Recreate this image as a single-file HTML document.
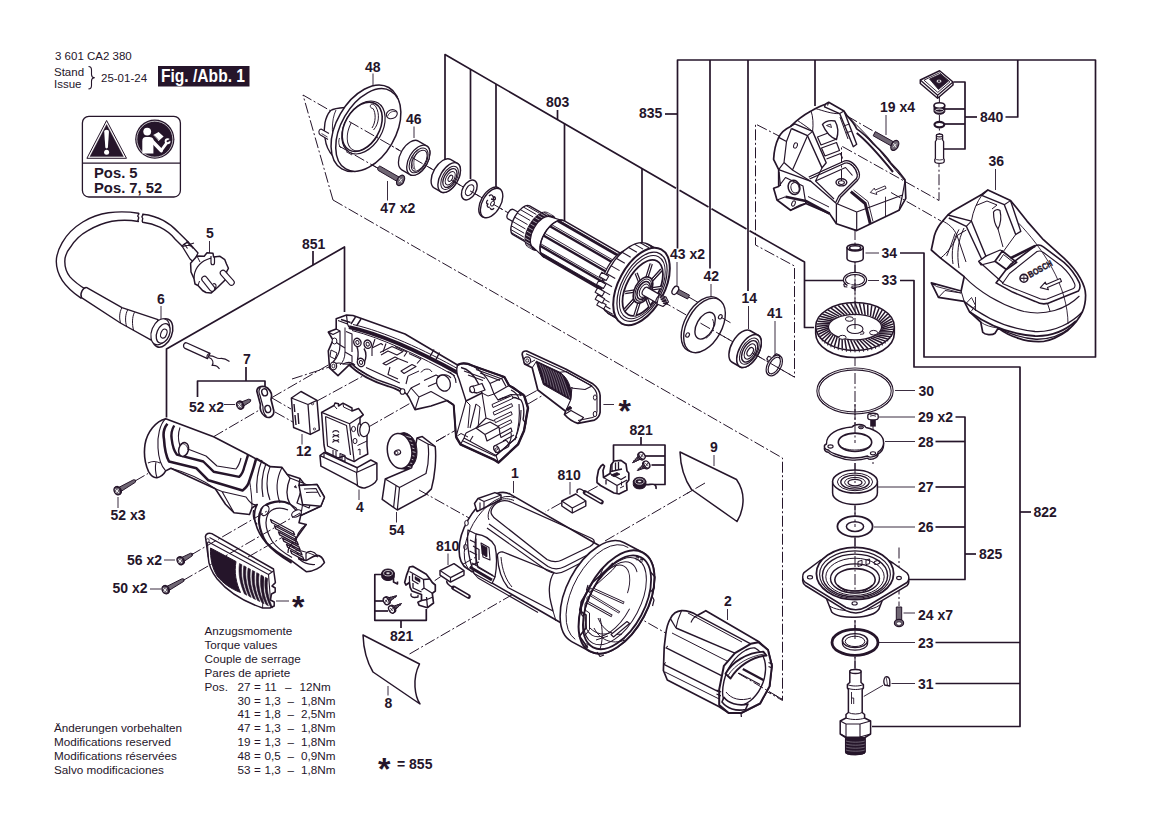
<!DOCTYPE html>
<html lang="de">
<head>
<meta charset="utf-8">
<title>3 601 CA2 380 - Fig. /Abb. 1</title>
<style>
html,body{margin:0;padding:0;background:#fff;}
body{width:1169px;height:826px;overflow:hidden;font-family:"Liberation Sans",sans-serif;}
svg{display:block;}
svg text{font-family:"Liberation Sans",sans-serif;fill:#25152a;stroke:none;}
</style>
</head>
<body>
<svg width="1169" height="826" viewBox="0 0 1169 826" fill="none" stroke="#25152a" stroke-linecap="butt" stroke-linejoin="round">
<rect x="0" y="0" width="1169" height="826" fill="#fff" stroke="none"/>
<g id="header">
<text x="55" y="59.5" font-size="11.5">3 601 CA2 380</text>
<text x="54" y="76" font-size="11.5">Stand</text>
<text x="54" y="88" font-size="11.5">Issue</text>
<path d="M88.5,66.5 q3,0 3,3.5 v4.5 q0,3 3,3.2 q-3,0.2 -3,3.2 v4.5 q0,3.5 -3,3.5" fill="none" stroke-width="1.1"/>
<text x="101" y="82" font-size="11.5">25-01-24</text>
<rect x="158" y="66" width="91.5" height="20.5" fill="#25152a" stroke="none"/>
<text x="161" y="82" font-size="17.5" font-weight="700" style="fill:#fff" textLength="84" lengthAdjust="spacingAndGlyphs">Fig. /Abb. 1</text>
</g>
<g id="warnbox">
<rect x="82.4" y="116.4" width="98" height="80.6" rx="6.5" ry="6.5" stroke-width="1.3"/>
<polyline points="82.4,163.2 180.4,163.2" stroke-width="1.3"/>
<path d="M106.6,120.5 L126.5,158.3 L86.9,158.3 Z" fill="none" stroke-width="1.0"/>
<path d="M106.6,124.4 L123.4,156.6 L90,156.6 Z" fill="#25152a" stroke-width="0.4"/>
<path d="M104.2,131.5 Q104.2,129.8 106.6,129.8 Q109,129.8 109,131.5 L107.9,147.6 Q107.8,148.4 106.6,148.4 Q105.4,148.4 105.3,147.6 Z" fill="#fff" stroke="none"/>
<circle cx="106.6" cy="152.2" r="2.5" fill="#fff" stroke="none"/>
<circle cx="154.8" cy="139.2" r="19.6" fill="#25152a" stroke="none"/>
<circle cx="154.8" cy="139.2" r="18" fill="none" stroke="#fff" stroke-width="0.7"/>
<g fill="#fff" stroke="none">
<circle cx="147.2" cy="131.6" r="3.9"/>
<path d="M142.3,153.6 L142.3,141 Q142.3,137 146,137 L149.5,137 Q152.4,137 153.4,139 L153.4,153.6 Z"/>
<path d="M153.2,135 L158.6,132 L163.6,136.5 L158.6,141 Z"/>
</g>
<g fill="none" stroke="#fff" stroke-linecap="round">
<path d="M150.6,139.6 L161.2,150.6" stroke-width="3.6"/>
<path d="M161.4,150.2 L166.2,143.6" stroke-width="2.8"/>
<circle cx="167.6" cy="141.2" r="2.0" stroke-width="1.9"/>
</g>
<path d="M167.4,141.2 L171.5,137.5 L171.5,140.5 Z" fill="#25152a" stroke="#25152a" stroke-width="0.8"/>
<path d="M153.9,135.4 L158.2,139.8" stroke="#25152a" stroke-width="0.8"/>
<text x="94" y="177.5" font-size="14.8" font-weight="700">Pos. 5</text>
<text x="94" y="192.5" font-size="14.8" font-weight="700">Pos. 7, 52</text>
</g>
<g id="torque" font-size="11.7">
<text x="204.5" y="635" font-size="11.7">Anzugsmomente</text>
<text x="204.5" y="649" font-size="11.7">Torque values</text>
<text x="204.5" y="663" font-size="11.7">Couple de serrage</text>
<text x="204.5" y="677" font-size="11.7">Pares de apriete</text>
<text x="204.5" y="690.7" font-size="11.7">Pos.</text>
<text x="237.5" y="690.7" font-size="11.7">27</text>
<text x="254" y="690.7" font-size="11.7">=</text>
<text x="264.5" y="690.7" font-size="11.7">11</text>
<text x="285" y="690.7" font-size="11.7">–</text>
<text x="299.5" y="690.7" font-size="11.7">12Nm</text>
<text x="237.5" y="704.5" font-size="11.7">30</text>
<text x="254" y="704.5" font-size="11.7">=</text>
<text x="264.5" y="704.5" font-size="11.7">1,3</text>
<text x="287.5" y="704.5" font-size="11.7">–</text>
<text x="301" y="704.5" font-size="11.7">1,8Nm</text>
<text x="237.5" y="718.3" font-size="11.7">41</text>
<text x="254" y="718.3" font-size="11.7">=</text>
<text x="264.5" y="718.3" font-size="11.7">1,8</text>
<text x="287.5" y="718.3" font-size="11.7">–</text>
<text x="301" y="718.3" font-size="11.7">2,5Nm</text>
<text x="237.5" y="732" font-size="11.7">47</text>
<text x="254" y="732" font-size="11.7">=</text>
<text x="264.5" y="732" font-size="11.7">1,3</text>
<text x="287.5" y="732" font-size="11.7">–</text>
<text x="301" y="732" font-size="11.7">1,8Nm</text>
<text x="237.5" y="745.8" font-size="11.7">19</text>
<text x="254" y="745.8" font-size="11.7">=</text>
<text x="264.5" y="745.8" font-size="11.7">1,3</text>
<text x="287.5" y="745.8" font-size="11.7">–</text>
<text x="301" y="745.8" font-size="11.7">1,8Nm</text>
<text x="237.5" y="759.8" font-size="11.7">48</text>
<text x="254" y="759.8" font-size="11.7">=</text>
<text x="264.5" y="759.8" font-size="11.7">0,5</text>
<text x="287.5" y="759.8" font-size="11.7">–</text>
<text x="301" y="759.8" font-size="11.7">0,9Nm</text>
<text x="237.5" y="773.6" font-size="11.7">53</text>
<text x="254" y="773.6" font-size="11.7">=</text>
<text x="264.5" y="773.6" font-size="11.7">1,3</text>
<text x="287.5" y="773.6" font-size="11.7">–</text>
<text x="301" y="773.6" font-size="11.7">1,8Nm</text>
<text x="54" y="732" font-size="11.7">Änderungen vorbehalten</text>
<text x="54" y="745.8" font-size="11.7">Modifications reserved</text>
<text x="54" y="759.8" font-size="11.7">Modifications réservées</text>
<text x="54" y="773.6" font-size="11.7">Salvo modificaciones</text>
</g>
<g id="labels">
<text x="365" y="71.5" font-size="14" font-weight="700">48</text>
<text x="406" y="124" font-size="14" font-weight="700">46</text>
<text x="546" y="107" font-size="14" font-weight="700">803</text>
<text x="639" y="118" font-size="14" font-weight="700">835</text>
<text x="880" y="112" font-size="14" font-weight="700">19 x4</text>
<text x="980" y="122" font-size="14" font-weight="700">840</text>
<text x="988.5" y="166" font-size="14" font-weight="700">36</text>
<text x="206" y="238" font-size="14" font-weight="700">5</text>
<text x="157" y="303.5" font-size="14" font-weight="700">6</text>
<text x="243" y="364" font-size="14" font-weight="700">7</text>
<text x="189" y="411.5" font-size="14" font-weight="700">52 x2</text>
<text x="302" y="248.5" font-size="14" font-weight="700">851</text>
<text x="670" y="259" font-size="14" font-weight="700">43 x2</text>
<text x="703.5" y="281" font-size="14" font-weight="700">42</text>
<text x="741.5" y="303" font-size="14" font-weight="700">14</text>
<text x="767" y="318" font-size="14" font-weight="700">41</text>
<text x="881.5" y="257.5" font-size="14" font-weight="700">34</text>
<text x="881.5" y="284.5" font-size="14" font-weight="700">33</text>
<text x="918.5" y="395.5" font-size="14" font-weight="700">30</text>
<text x="110.5" y="520" font-size="14" font-weight="700">52 x3</text>
<text x="127" y="564.5" font-size="14" font-weight="700">56 x2</text>
<text x="112.5" y="593" font-size="14" font-weight="700">50 x2</text>
<text x="296" y="456" font-size="14" font-weight="700">12</text>
<text x="356" y="512" font-size="14" font-weight="700">4</text>
<text x="389" y="535" font-size="14" font-weight="700">54</text>
<text x="511" y="478" font-size="14" font-weight="700">1</text>
<text x="557.5" y="479.5" font-size="14" font-weight="700">810</text>
<text x="436" y="551" font-size="14" font-weight="700">810</text>
<text x="629.5" y="434.5" font-size="14" font-weight="700">821</text>
<text x="710" y="452" font-size="14" font-weight="700">9</text>
<text x="724" y="606" font-size="14" font-weight="700">2</text>
<text x="918" y="422" font-size="14" font-weight="700">29 x2</text>
<text x="918" y="446.5" font-size="14" font-weight="700">28</text>
<text x="918" y="492" font-size="14" font-weight="700">27</text>
<text x="918" y="532" font-size="14" font-weight="700">26</text>
<text x="979" y="559" font-size="14" font-weight="700">825</text>
<text x="1033.5" y="517" font-size="14" font-weight="700">822</text>
<text x="918" y="620" font-size="14" font-weight="700">24 x7</text>
<text x="918" y="647.5" font-size="14" font-weight="700">23</text>
<text x="918" y="688.5" font-size="14" font-weight="700">31</text>
<text x="390" y="641" font-size="14" font-weight="700">821</text>
<text x="384.5" y="708" font-size="14" font-weight="700">8</text>
<text x="397" y="769" font-size="14" font-weight="700">= 855</text>
<text x="380.3" y="213.2" font-size="14" font-weight="700">47 x2</text>
</g>
<g id="brackets">
<polyline points="445,160 445,54.5 676,188.249" stroke-width="1.7"/>
<polyline points="679.5,190.2755 708.5,207.0665" stroke-width="1.7"/>
<polyline points="711.5,208.80349999999999 746.5,229.0685" stroke-width="1.7"/>
<polyline points="749.5,230.8055 804.5,262 804.5,327.5 814,327.5" stroke-width="1.7"/>
<polyline points="804.5,280.5 844,280.5" stroke-width="1.7"/>
<polyline points="470.5,69.2645 470.5,179" stroke-width="1.7"/>
<polyline points="496,84.029 496,187" stroke-width="1.7"/>
<polyline points="564.5,123.6905 564.5,228" stroke-width="1.7"/>
<polyline points="642,168.563 642,245" stroke-width="1.7"/>
<polyline points="557.5,110 557.5,119.63749999999999" stroke-width="1.7"/>
<polyline points="677.5,248.5 677.5,60 1095.5,60 1095.5,357 924,357 924,253 900,253" stroke-width="1.7"/>
<polyline points="665,114 677.5,114" stroke-width="1.7"/>
<polyline points="710,60 710,268.5" stroke-width="1.7"/>
<polyline points="748,60 748,291" stroke-width="1.7"/>
<polyline points="815,60 815,106" stroke-width="1.7"/>
<polyline points="1017.75,60 1017.75,117 1005.5,117" stroke-width="1.7"/>
<polyline points="953.5,82 965,82 965,149 943.5,149" stroke-width="1.7"/>
<polyline points="944,109 965,109" stroke-width="1.7"/>
<polyline points="944,124 965,124" stroke-width="1.7"/>
<polyline points="965,117 977,117" stroke-width="1.7"/>
<polyline points="900,280.5 914,280.5 914,367 1020,367 1020,726.5 872,726.5" stroke-width="1.7"/>
<polyline points="1020,512 1031,512" stroke-width="1.7"/>
<polyline points="935.5,642.5 1020,642.5" stroke-width="1.7"/>
<polyline points="935.5,683.5 1020,683.5" stroke-width="1.7"/>
<polyline points="955.5,417 965,417 965,579.5 908.5,579.5" stroke-width="1.7"/>
<polyline points="935.5,441.5 965,441.5" stroke-width="1.7"/>
<polyline points="935.5,487 965,487" stroke-width="1.7"/>
<polyline points="935.5,527 965,527" stroke-width="1.7"/>
<polyline points="965,554 976,554" stroke-width="1.7"/>
<polyline points="166.5,417.5 166.5,349 344.5,247 344.5,312" stroke-width="1.7"/>
<polyline points="313,251 313,265" stroke-width="1.7"/>
<polyline points="197.5,397 197.5,381 265,381 265,387.5" stroke-width="1.7"/>
<polyline points="246,367 246,381" stroke-width="1.7"/>
<polyline points="613.5,461 613.5,445 665,445 665,484.5 655,484.5" stroke-width="1.7"/>
<polyline points="641,437 641,445" stroke-width="1.7"/>
<polyline points="645,456 665,456" stroke-width="1.7"/>
<polyline points="651.5,465 665,465" stroke-width="1.7"/>
<polyline points="382,574.5 374.8,574.5 374.8,620.3 426.3,620.3 426.3,609" stroke-width="1.7"/>
<polyline points="374.8,601 383,601" stroke-width="1.7"/>
<polyline points="374.8,611 388,611" stroke-width="1.7"/>
<polyline points="401,620 401,628" stroke-width="1.7"/>
</g>
<g id="leaders">
<polyline points="373,73.5 373,86" stroke-width="0.9"/>
<polyline points="414,126.5 414,138" stroke-width="0.9"/>
<polyline points="886,115 886,135" stroke-width="0.9"/>
<polyline points="995.5,169 995.5,190" stroke-width="0.9"/>
<polyline points="209.5,241 209.5,253" stroke-width="0.9"/>
<polyline points="161,306 161,319" stroke-width="0.9"/>
<polyline points="677,262 677,285.5" stroke-width="0.9"/>
<polyline points="711,284 711,297" stroke-width="0.9"/>
<polyline points="748.5,306 748.5,329" stroke-width="0.9"/>
<polyline points="775,321 775,355" stroke-width="0.9"/>
<polyline points="895,390.5 915,390.5" stroke-width="0.9"/>
<polyline points="118,497 118,508" stroke-width="0.9"/>
<polyline points="164,560 175,560" stroke-width="0.9"/>
<polyline points="150,589 161,589" stroke-width="0.9"/>
<polyline points="302,434 302,444.5" stroke-width="0.9"/>
<polyline points="359,489.5 359,500" stroke-width="0.9"/>
<polyline points="396.5,512 396.5,522.5" stroke-width="0.9"/>
<polyline points="513.5,481 513.5,493" stroke-width="0.9"/>
<polyline points="570,482 570,494.5" stroke-width="0.9"/>
<polyline points="448,553.5 448,565" stroke-width="0.9"/>
<polyline points="714,455 714,466" stroke-width="0.9"/>
<polyline points="727.5,609 727.5,620" stroke-width="0.9"/>
<polyline points="873,417 915,417" stroke-width="0.9"/>
<polyline points="885,441.5 915,441.5" stroke-width="0.9"/>
<polyline points="877,487 915,487" stroke-width="0.9"/>
<polyline points="874,527 915,527" stroke-width="0.9"/>
<polyline points="903.5,613 915,613" stroke-width="0.9"/>
<polyline points="878,642.5 915,642.5" stroke-width="0.9"/>
<polyline points="891.5,683.5 915,683.5" stroke-width="0.9"/>
<polyline points="388,686 388,695.5" stroke-width="0.9"/>
<polyline points="224,404.5 235,404.5" stroke-width="0.9"/>
<polyline points="276,601 289,601" stroke-width="0.9"/>
<polyline points="387.5,181 387.5,200.5" stroke-width="0.9"/>
<polyline points="603.4,404.5 614,404.5" stroke-width="0.9"/>
</g>
<text x="292.1" y="618.1" font-size="32" font-weight="700">*</text>
<text x="618.5" y="421.7" font-size="32" font-weight="700">*</text>
<text x="378.0" y="779.7" font-size="32" font-weight="700">*</text>
<g id="dashdot">
<polyline points="333,200 303,95 794.5,377.121 794.5,266 755.5,245 755.5,124 779,136" stroke-width="1.0" stroke-dasharray="11 2.5 2 2.5"/>
<polyline points="333,200 782.5,458 782.5,700.5 700,653" stroke-width="1.0" stroke-dasharray="11 2.5 2 2.5"/>
<polyline points="339,146 404,183" stroke-width="1.0" stroke-dasharray="11 2.5 2 2.5"/>
</g>
<g id="p_10_p48">
<path d="M345,107.5 C338,108 333,109 330.6,110.5 C325,117 323,128 325,138 C326,146 329,152 333,156 L345,162 Z" fill="#fff" stroke-width="1.4"/>
<path d="M336,110 C331,120 331,138 337,151" fill="none" stroke-width="0.9"/>
<path d="M328,139.5 L320.5,135 C318,133 318.5,129.5 321,129 L329,133.5" fill="#fff" stroke-width="1.1"/>
<path d="M321.5,133.5 L327.5,137" fill="none" stroke-width="0.8"/>
<ellipse cx="365.3" cy="128.2" rx="28.8" ry="47" fill="#fff" stroke-width="1.5" transform="rotate(30 365.3 128.2)"/>
<ellipse cx="368.3" cy="130" rx="27.2" ry="45" fill="#fff" stroke-width="1.5" transform="rotate(30 368.3 130)"/>
<ellipse cx="363.5" cy="127.5" rx="18.8" ry="28.5" fill="#fff" stroke-width="1.2" transform="rotate(30 363.5 127.5)"/>
<ellipse cx="362.2" cy="126.8" rx="17.3" ry="26.6" fill="#fff" stroke-width="1.6" transform="rotate(30 362.2 126.8)"/>
<ellipse cx="364.8" cy="128.4" rx="14.6" ry="24.5" fill="none" stroke-width="0.9" transform="rotate(30 364.8 128.4)" stroke-dasharray="60 70"/>
<path d="M370.8,104.8 C372,103.5 374.5,104.5 376,107 C380,114 379,124 373.5,130" fill="none" stroke-width="1.0"/>
<path d="M370.8,104.8 C369.5,106.5 371,108.5 373,108.5 C376,113 376,122 372,128" fill="none" stroke-width="1.0"/>
<ellipse cx="391.8" cy="114.2" rx="5.6" ry="4.4" fill="#fff" stroke-width="1.1" transform="rotate(-20 391.8 114.2)"/>
<path d="M387.5,116.5 C389,112 393,110.5 396.5,112" fill="none" stroke-width="0.8"/>
<path d="M339.5,138 C338,142 339,146 341,148" fill="none" stroke-width="0.9"/>
<path d="M346,151.5 L352,155" fill="none" stroke-width="0.9"/>
<polyline points="349,121.404 399,150.10399999999998" stroke-width="1.0" stroke-dasharray="11 2.5 2 2.5"/>
<polyline points="339,146 380,169.5" stroke-width="1.0" stroke-dasharray="11 2.5 2 2.5"/>
</g>
<g id="p_11_p47_46">
<path d="M380.2,166.2 L399.5,177.3 L397.2,181.5 L378.2,170.4 C376.8,169.5 378.6,165.4 380.2,166.2 Z" fill="#6f6673" stroke-width="1.0"/>
<ellipse cx="400.6" cy="180.4" rx="3.3" ry="5.6" fill="#6f6673" stroke-width="1.3" transform="rotate(30 400.6 180.4)"/>
<path d="M399.2,178.2 L402,182.6 M402.3,178.6 L399,182.2" fill="none" stroke-width="0.8" stroke="#fff"/>
<path d="M410.00,174.58 L401.77,169.83 A9.4 16.6 30 0 1 418.37,141.07 L426.60,145.82 A9.4 16.6 30 0 1 410.00,174.58 Z" fill="#fff" stroke-width="1.3"/>
<ellipse cx="418.3" cy="160.2" rx="9.4" ry="16.6" fill="#fff" stroke-width="1.3" transform="rotate(30 418.3 160.2)"/>
<ellipse cx="418.6" cy="160.4" rx="7.6" ry="13.6" fill="#fff" stroke-width="1.1" transform="rotate(30 418.6 160.4)"/>
<ellipse cx="419.2" cy="160.7" rx="6.2" ry="11.6" fill="#fff" stroke-width="1.0" transform="rotate(30 419.2 160.7)"/>
<path d="M413.5,169 C410.5,163 412,153.5 417.5,149.5" fill="none" stroke-width="0.8"/>
<path d="M415.3,170.3 C412.3,164 414,154.5 419,150.5" fill="none" stroke-width="0.8"/>
<polyline points="413,158.14 432,169.046" stroke-width="1.0" stroke-dasharray="11 2.5 2 2.5"/>
</g>
<g id="p_12_bearing_washers">
<path d="M441.00,191.80 L434.07,187.80 A9.0 16.4 30 0 1 450.47,159.40 L457.40,163.40 A9.0 16.4 30 0 1 441.00,191.80 Z" fill="#fff" stroke-width="1.4"/>
<ellipse cx="449.2" cy="177.6" rx="9.0" ry="16.4" fill="#fff" stroke-width="1.4" transform="rotate(30 449.2 177.6)"/>
<ellipse cx="449.6" cy="177.8" rx="7.0" ry="12.8" fill="#fff" stroke-width="1.0" transform="rotate(30 449.6 177.8)"/>
<ellipse cx="449.9" cy="178" rx="5.6" ry="10.4" fill="#fff" stroke-width="1.3" transform="rotate(30 449.9 178)"/>
<ellipse cx="450.2" cy="178.2" rx="4.0" ry="7.4" fill="#fff" stroke-width="0.9" transform="rotate(30 450.2 178.2)"/>
<ellipse cx="450.4" cy="178.3" rx="1.9" ry="3.4" fill="#fff" stroke-width="1.0" transform="rotate(30 450.4 178.3)"/>
<polyline points="451,179.952 463,186.83999999999997" stroke-width="1.0" stroke-dasharray="11 2.5 2 2.5"/>
<ellipse cx="469.3" cy="190" rx="6.6" ry="10.8" fill="#fff" stroke-width="1.4" transform="rotate(30 469.3 190)"/>
<ellipse cx="469.6" cy="190.2" rx="3.5" ry="5.9" fill="#fff" stroke-width="1.2" transform="rotate(30 469.6 190.2)"/>
<polyline points="470,190.858 484,198.894" stroke-width="1.0" stroke-dasharray="11 2.5 2 2.5"/>
<ellipse cx="490.3" cy="202.2" rx="9.3" ry="16.6" fill="#fff" stroke-width="1.4" transform="rotate(30 490.3 202.2)"/>
<ellipse cx="491.6" cy="203" rx="9.0" ry="16.2" fill="#fff" stroke-width="1.4" transform="rotate(30 491.6 203)"/>
<path d="M489,196 c2,-2 4,-1 4,1 c2,-1 3,1 2,3 M488,200 c-2,1 -2,4 0,4 c-2,2 0,4 2,3 M490,208 c1,2 3,2 4,0 M493.5,197 l0,6 M491,199 l4,1" fill="none" stroke-width="1.3"/>
<ellipse cx="492.5" cy="203.6" rx="1.6" ry="2.6" fill="#fff" stroke-width="0.9" transform="rotate(30 492.5 203.6)"/>
<polyline points="493,204.06 503,209.8" stroke-width="1.0" stroke-dasharray="11 2.5 2 2.5"/>
</g>
<g id="p_13_armature">
<path d="M516.30,223.66 L508.07,218.91 A3.0 5.4 30 0 1 513.47,209.56 L521.70,214.31 A3.0 5.4 30 0 1 516.30,223.66 Z" fill="#fff" stroke-width="1.3"/>
<path d="M527.70,243.12 L512.98,234.62 A7.5 16.6 30 0 1 529.58,205.87 L544.30,214.37 A7.5 16.6 30 0 1 527.70,243.12 Z" fill="#fff" stroke-width="1.4"/>
<polyline points="511.28,232.53 524.27,240.03" stroke-width="1.0"/>
<polyline points="510.76,229.53 523.75,237.03" stroke-width="1.0"/>
<polyline points="511.17,225.72 524.16,233.22" stroke-width="1.0"/>
<polyline points="512.46,221.44 525.45,228.94" stroke-width="1.0"/>
<polyline points="514.52,217.06 527.51,224.56" stroke-width="1.0"/>
<polyline points="517.17,212.96 530.16,220.46" stroke-width="1.0"/>
<polyline points="520.19,209.51 533.18,217.01" stroke-width="1.0"/>
<polyline points="523.3,206.99 536.29,214.49" stroke-width="1.0"/>
<polyline points="526.24,205.65 539.23,213.15" stroke-width="1.0"/>
<path d="M533.25,249.65 L528.05,246.65 A9.5 19.5 30 0 1 547.55,212.87 L552.75,215.87 A9.5 19.5 30 0 1 533.25,249.65 Z" fill="#25152a" stroke-width="1.2"/>
<polyline points="526.97,245.7 531.73,248.45" stroke-width="0.6" stroke="#fff"/>
<polyline points="525.88,243.77 530.64,246.52" stroke-width="0.6" stroke="#fff"/>
<polyline points="525.32,241.23 530.08,243.98" stroke-width="0.6" stroke="#fff"/>
<polyline points="525.31,238.2 530.07,240.95" stroke-width="0.6" stroke="#fff"/>
<polyline points="525.86,234.81 530.62,237.56" stroke-width="0.6" stroke="#fff"/>
<polyline points="526.93,231.2 531.7,233.95" stroke-width="0.6" stroke="#fff"/>
<polyline points="528.5,227.54 533.26,230.29" stroke-width="0.6" stroke="#fff"/>
<polyline points="530.47,223.97 535.24,226.72" stroke-width="0.6" stroke="#fff"/>
<polyline points="532.78,220.67 537.54,223.42" stroke-width="0.6" stroke="#fff"/>
<polyline points="535.31,217.77 540.08,220.52" stroke-width="0.6" stroke="#fff"/>
<polyline points="537.96,215.4 542.73,218.15" stroke-width="0.6" stroke="#fff"/>
<polyline points="540.62,213.66 545.38,216.41" stroke-width="0.6" stroke="#fff"/>
<polyline points="543.16,212.63 547.92,215.38" stroke-width="0.6" stroke="#fff"/>
<polyline points="545.47,212.36 550.23,215.11" stroke-width="0.6" stroke="#fff"/>
<polyline points="547.46,212.85 552.22,215.6" stroke-width="0.6" stroke="#fff"/>
<path d="M550.75,217.03 L564.40,221.06 L543.60,257.09 L533.25,247.34 A9 17.5 30 0 1 550.75,217.03 Z" fill="#fff" stroke-width="1.2"/>
<path d="M607.60,293.82 L543.60,256.87 A11 20.8 30 0 1 564.40,220.85 L628.40,257.80 A11 20.8 30 0 1 607.60,293.82 Z" fill="#fff" stroke-width="1.5"/>
<path d="M564.40,221.06 A11 20.8 30 0 0 543.60,257.09" fill="none" stroke-width="1.0"/>
<polyline points="540.79,253.72 603.06,289.67" stroke-width="2.4"/>
<polyline points="540.29,252.16 602.55,288.11" stroke-width="0.9"/>
<polyline points="540.09,245.83 602.36,281.78" stroke-width="2.4"/>
<polyline points="540.48,243.64 602.75,279.59" stroke-width="0.9"/>
<polyline points="543.44,235.49 605.71,271.44" stroke-width="2.4"/>
<polyline points="544.66,233.26 606.92,269.21" stroke-width="0.9"/>
<polyline points="550.0,226.23 612.26,262.18" stroke-width="2.4"/>
<polyline points="551.67,224.65 613.94,260.6" stroke-width="0.9"/>
<polyline points="557.77,220.88 620.04,256.83" stroke-width="2.4"/>
<polyline points="559.4,220.42 621.67,256.37" stroke-width="0.9"/>
<path d="M613.64,302.75 L606.72,298.75 A15 28 30 0 1 634.72,250.25 L641.64,254.25 A15 28 30 0 1 613.64,302.75 Z" fill="#fff" stroke-width="1.3"/>
<path d="M621.50,321.14 L608.51,313.64 A22 40 30 0 1 648.51,244.36 L661.50,251.86 A22 40 30 0 1 621.50,321.14 Z" fill="#fff" stroke-width="1.4"/>
<polyline points="612.12,315.02 620.78,320.02" stroke-width="1.1"/>
<polyline points="607.54,313.02 616.2,318.02" stroke-width="1.1"/>
<polyline points="604.03,309.27 612.69,314.27" stroke-width="1.1"/>
<polyline points="601.78,303.96 610.44,308.96" stroke-width="1.1"/>
<polyline points="600.9,297.38 609.56,302.38" stroke-width="1.1"/>
<polyline points="601.43,289.86 610.09,294.86" stroke-width="1.1"/>
<polyline points="603.35,281.78 612.01,286.78" stroke-width="1.1"/>
<polyline points="606.56,273.55 615.22,278.55" stroke-width="1.1"/>
<polyline points="610.9,265.61 619.56,270.61" stroke-width="1.1"/>
<polyline points="616.14,258.35 624.8,263.35" stroke-width="1.1"/>
<polyline points="622.01,252.15 630.67,257.15" stroke-width="1.1"/>
<polyline points="628.22,247.33 636.88,252.33" stroke-width="1.1"/>
<polyline points="634.44,244.13 643.1,249.13" stroke-width="1.1"/>
<polyline points="640.35,242.72 649.01,247.72" stroke-width="1.1"/>
<polyline points="645.66,243.17 654.32,248.17" stroke-width="1.1"/>
<polyline points="650.09,245.45 658.75,250.45" stroke-width="1.1"/>
<polyline points="653.42,249.45 662.08,254.45" stroke-width="1.1"/>
<path d="M599.27,300.66 l6.93,4.00 l-2.50,4.33 l-6.93,-4.00 Z" fill="#fff" stroke-width="1.1"/>
<path d="M597.70,294.84 l6.93,4.00 l-2.50,4.33 l-6.93,-4.00 Z" fill="#fff" stroke-width="1.1"/>
<path d="M597.61,287.88 l6.93,4.00 l-2.50,4.33 l-6.93,-4.00 Z" fill="#fff" stroke-width="1.1"/>
<path d="M598.99,280.18 l6.93,4.00 l-2.50,4.33 l-6.93,-4.00 Z" fill="#fff" stroke-width="1.1"/>
<path d="M601.76,272.20 l6.93,4.00 l-2.50,4.33 l-6.93,-4.00 Z" fill="#fff" stroke-width="1.1"/>
<ellipse cx="641.5" cy="286.5" rx="23" ry="42" fill="#fff" stroke-width="2.0" transform="rotate(28 641.5 286.5)"/>
<ellipse cx="642.0" cy="286.8" rx="20.2" ry="37.6" fill="#fff" stroke-width="1.2" transform="rotate(28 642.0 286.8)"/>
<ellipse cx="642.3" cy="287.1" rx="18.4" ry="34.4" fill="#fff" stroke-width="1.0" transform="rotate(28 642.3 287.1)"/>
<ellipse cx="642.7" cy="287.9" rx="16.2" ry="30.5" fill="#fff" stroke-width="1.8" transform="rotate(28 642.7 287.9)"/>
<polyline points="640.2,299.05 634.74,316.17" stroke-width="3.4"/>
<polyline points="640.2,299.05 634.74,316.17" stroke-width="1.0" stroke="#fff"/>
<polyline points="645.49,295.85 649.85,306.77" stroke-width="3.4"/>
<polyline points="645.49,295.85 649.85,306.77" stroke-width="1.0" stroke="#fff"/>
<polyline points="649.31,289.23 660.95,287.55" stroke-width="3.4"/>
<polyline points="649.31,289.23 660.95,287.55" stroke-width="1.0" stroke="#fff"/>
<polyline points="649.44,283.05 661.53,269.76" stroke-width="3.4"/>
<polyline points="649.44,283.05 661.53,269.76" stroke-width="1.0" stroke="#fff"/>
<polyline points="645.8,280.95 651.26,263.83" stroke-width="3.4"/>
<polyline points="645.8,280.95 651.26,263.83" stroke-width="1.0" stroke="#fff"/>
<polyline points="640.51,284.15 636.15,273.23" stroke-width="3.4"/>
<polyline points="640.51,284.15 636.15,273.23" stroke-width="1.0" stroke="#fff"/>
<polyline points="636.69,290.77 625.05,292.45" stroke-width="3.4"/>
<polyline points="636.69,290.77 625.05,292.45" stroke-width="1.0" stroke="#fff"/>
<polyline points="636.56,296.95 624.47,310.24" stroke-width="3.4"/>
<polyline points="636.56,296.95 624.47,310.24" stroke-width="1.0" stroke="#fff"/>
<ellipse cx="643.0" cy="290.0" rx="8.2" ry="14.2" fill="#fff" stroke-width="1.6" transform="rotate(28 643.0 290.0)"/>
<ellipse cx="643.3" cy="290.2" rx="7.0" ry="12.0" fill="#fff" stroke-width="1.0" transform="rotate(28 643.3 290.2)"/>
<ellipse cx="643.6" cy="290.4" rx="5.6" ry="9.6" fill="#fff" stroke-width="1.6" transform="rotate(28 643.6 290.4)"/>
<ellipse cx="644.2" cy="290.7" rx="4.2" ry="7.2" fill="#fff" stroke-width="1.0" transform="rotate(28 644.2 290.7)"/>
<path d="M656.80,303.01 L642.94,295.01 A2.4 4.4 30 0 1 647.34,287.39 L661.20,295.39 A2.4 4.4 30 0 1 656.80,303.01 Z" fill="#fff" stroke-width="1.2"/>
<ellipse cx="659.0" cy="299.2" rx="2.4" ry="4.4" fill="#fff" stroke-width="1.2" transform="rotate(30 659.0 299.2)"/>
<path d="M659.0,294.5 l7,2.5 l2.5,5 l-5.5,4.5 l-6,-2.5 Z" fill="#fff" stroke-width="1.1"/>
<polyline points="658.5,295.5 665.5,298.0" stroke-width="1.3"/>
<polyline points="659.6,297.4 666.1,299.5" stroke-width="1.3"/>
<polyline points="660.7,299.3 666.7,301.0" stroke-width="1.3"/>
<polyline points="661.8,301.2 667.3,302.5" stroke-width="1.3"/>
<polyline points="662.9,303.1 667.9,304.0" stroke-width="1.3"/>
</g>
<g id="p_14_p43_42_14_41">
<polyline points="689,297.2 698,302.4" stroke-width="1.0" stroke-dasharray="11 2.5 2 2.5"/>
<path d="M676.5,288.2 L689.5,295.2 L687.6,299 L674.6,292.4 Z" fill="#6f6673" stroke-width="1.0"/>
<ellipse cx="675.3" cy="290.3" rx="2.7" ry="4.6" fill="#fff" stroke-width="1.3" transform="rotate(30 675.3 290.3)"/>
<ellipse cx="702.3" cy="324.261" rx="17.5" ry="30" fill="#fff" stroke-width="1.4" transform="rotate(29 702.3 324.261)"/>
<ellipse cx="704.5" cy="325.461" rx="17.3" ry="29.6" fill="#fff" stroke-width="1.4" transform="rotate(29 704.5 325.461)"/>
<ellipse cx="705.1" cy="325.661" rx="8.4" ry="14.6" fill="#fff" stroke-width="1.4" transform="rotate(29 705.1 325.661)"/>
<path d="M712.5,319 C715.5,325 713,334 706,338.2" fill="none" stroke-width="0.9"/>
<ellipse cx="720.3" cy="316.8" rx="1.7" ry="2.3" fill="#fff" stroke-width="1.1" transform="rotate(30 720.3 316.8)"/>
<ellipse cx="687.6" cy="335" rx="1.7" ry="2.3" fill="#fff" stroke-width="1.1" transform="rotate(30 687.6 335)"/>
<polyline points="721,317.2 731,323" stroke-width="1.0" stroke-dasharray="11 2.5 2 2.5"/>
<polyline points="700.5,323.16499999999996 731,340.67199999999997" stroke-width="1.0" stroke-dasharray="11 2.5 2 2.5"/>
<path d="M739.90,366.77 L732.11,362.27 A9.6 18.2 30 0 1 750.31,330.74 L758.10,335.24 A9.6 18.2 30 0 1 739.90,366.77 Z" fill="#fff" stroke-width="1.5"/>
<ellipse cx="749" cy="351.00399999999996" rx="9.6" ry="18.2" fill="#fff" stroke-width="1.5" transform="rotate(30 749 351.00399999999996)"/>
<ellipse cx="749.3" cy="351.20399999999995" rx="7.8" ry="14.4" fill="#fff" stroke-width="1.0" transform="rotate(30 749.3 351.20399999999995)"/>
<ellipse cx="749.6" cy="351.40399999999994" rx="6.4" ry="11.8" fill="#fff" stroke-width="1.4" transform="rotate(30 749.6 351.40399999999994)"/>
<ellipse cx="749.9" cy="351.50399999999996" rx="4.6" ry="8.4" fill="#fff" stroke-width="1.0" transform="rotate(30 749.9 351.50399999999996)"/>
<ellipse cx="750.2" cy="351.70399999999995" rx="2.6" ry="4.6" fill="#fff" stroke-width="1.2" transform="rotate(30 750.2 351.70399999999995)"/>
<polyline points="752,352.726 768,361.90999999999997" stroke-width="1.0" stroke-dasharray="11 2.5 2 2.5"/>
<ellipse cx="774.3" cy="365.52619999999996" rx="5.8" ry="10.2" fill="none" stroke-width="3.2" transform="rotate(30 774.3 365.52619999999996)"/>
<ellipse cx="774.3" cy="365.52619999999996" rx="5.8" ry="10.2" fill="none" stroke-width="0.8" transform="rotate(30 774.3 365.52619999999996)" stroke="#fff"/>
<path d="M773.5,356 l3,-2.2 l3.2,1.4 l-0.6,3 M771,357.3 l-2.6,-1 l-1.6,2.6 l1.6,2" fill="none" stroke-width="1.2"/>
<polyline points="777,367.07599999999996 794.5,377.121" stroke-width="1.0" stroke-dasharray="11 2.5 2 2.5"/>
</g>
<g id="p_20_housing835">
<polyline points="847.4,116.2 874,131.5" stroke-width="1.0" stroke-dasharray="11 2.5 2 2.5"/>
<path d="M825.3,104.3 L828.7,102.3 L844,111.1 L847.4,116.2 C852,121 855,125 856.7,128.9 C863,133 868,138 873.6,144.2 C880,150 886,156 890.6,162.8 C896,168 901,174 905,179.7 L905.8,198.4 L899,210.3 L856.7,230.6 L836.4,223.8 L829.6,213.6 L805.8,203.5 L790.6,210.3 L777,200 L773.6,188.2 L778.7,186.5 L778.7,169.6 L773.6,159.4 C774,151 776,143 778.7,137.4 C781,132.5 785,129 790.6,126.4 C797,120 804,115 811,111.1 C816,108 821,106 825.3,104.3 Z" fill="#fff" stroke-width="1.7"/>
<path d="M825.3,104.3 L824.5,106.9 L839.7,113.6 L853.3,146.7 L856.7,144.2 L844,111.1" fill="none" stroke-width="1.4"/>
<path d="M839.7,113.6 L844,111.1 M828.7,102.3 L827.5,105.5" fill="none" stroke-width="1.1"/>
<path d="M847.4,116.2 C858,126 872,140 884,156 C892,166 899,174 905,181" fill="none" stroke-width="1.0"/>
<path d="M856.7,133 C868,142 880,156 893,172" fill="none" stroke-width="2.0"/>
<path d="M790.6,126.4 L794.8,123.8 L812.6,131.4 L826.2,162.8 L822,167.9 L807.5,135.7 L791.4,128.5" fill="none" stroke-width="1.4"/>
<path d="M812.6,131.4 L807.5,135.7" fill="none" stroke-width="1.1"/>
<path d="M797.4,120.4 C801,123 806,126 812.6,131.4 M811,111.1 C813,116 813.5,124 812.6,131.4 M815.5,108.5 C824,111 832,114 839.7,113.6" fill="none" stroke-width="1.0"/>
<path d="M817.5,137 L832,131.5 L835.5,139.5 L821,145 Z M821.5,148 L836.5,142.5 L839.5,150.5 L825,156 Z M826.5,159 L840.5,153.5 L842.5,158.5" fill="none" stroke-width="1.2"/>
<path d="M822.5,124.5 C825,121.5 830,120 835,121 C838,126 838.5,133 836.5,139.5 C831,137.5 825.5,131.5 822.5,124.5 Z" fill="#fff" stroke-width="1.4"/>
<path d="M826.5,125.5 l4,-1.4 l1,3.4 Z" fill="none" stroke-width="0.9"/>
<path d="M840,117 L848,139 M843.5,126 L849.5,124 M846,133 L851.5,131" fill="none" stroke-width="1.0"/>
<path d="M778.7,137.4 L786.5,141.5 L791.4,128.5 M786.5,141.5 L784,162.5 L792.5,170 L807.5,135.7 M784,162.5 L778.7,169.6 M792.5,170 L811,181.4" fill="none" stroke-width="1.2"/>
<ellipse cx="795.5" cy="145.5" rx="1.8" ry="2.8" fill="none" stroke-width="1.0" transform="rotate(20 795.5 145.5)"/>
<path d="M778.7,169.6 L811,181.4 L836.4,203.5 L836.4,223.8" fill="none" stroke-width="1.3"/>
<path d="M809.2,178 L844.8,162 C851,160.5 857.5,168 858.4,174.7 C858.5,178 857.5,179 856.7,179.7 L839.7,196.7 L836.4,203.5" fill="none" stroke-width="3.4"/>
<path d="M809.2,178 L844.8,162 C851,160.5 857.5,168 858.4,174.7 C858.5,178 857.5,179 856.7,179.7 L839.7,196.7 L836.4,203.5" fill="none" stroke-width="1.0" stroke="#fff"/>
<path d="M815.5,181 L845.5,167.5 L852.5,175.5 M822,167.9 L815.5,181 L834,199" fill="none" stroke-width="1.1"/>
<ellipse cx="841.4" cy="182.3" rx="5.4" ry="3.6" fill="#fff" stroke-width="1.4"/>
<ellipse cx="841.4" cy="182.6" rx="3.0" ry="1.9" fill="#fff" stroke-width="1.1"/>
<path d="M836.4,203.5 L856.7,212 L856.7,230.6 M856.7,212 L902.5,195 L905,181 M902.5,195 L899,210.3" fill="none" stroke-width="1.2"/>
<path d="M850.8,191.6 L865.2,203.5 L870.3,223.8" fill="none" stroke-width="3.0"/>
<path d="M853.5,190 L868,201.5 L873,221.5" fill="none" stroke-width="0.9"/>
<path d="M885.5,196.7 L885.5,217" fill="none" stroke-width="0.9"/>
<path d="M870.3,192.5 l4,-4.4 l0.8,2 l10,-4.2 l1,2.4 l-10,4.2 l0.8,2 Z" fill="#fff" stroke-width="0.9"/>
<ellipse cx="794" cy="187.4" rx="5.8" ry="7.2" fill="#fff" stroke-width="1.5" transform="rotate(-15 794 187.4)"/>
<ellipse cx="795" cy="187.8" rx="4.0" ry="5.2" fill="#fff" stroke-width="1.0" transform="rotate(-15 795 187.8)"/>
<path d="M778.7,186.5 L785.5,177.5 L803,186 L805.8,203.5 M779,172 L780.5,186" fill="none" stroke-width="1.2"/>
<path d="M785.5,196.7 L805.8,201 L829.6,213.6" fill="none" stroke-width="2.6"/>
<path d="M777,200 L785.5,196.7 M790.6,210.3 C796,207 800,204 805.8,203.5" fill="none" stroke-width="1.1"/>
<ellipse cx="793.5" cy="203.5" rx="1.6" ry="2.8" fill="#fff" stroke-width="1.0" transform="rotate(25 793.5 203.5)"/>
<path d="M808,196.5 L829,207 M812.5,205 L829.6,213.6" fill="none" stroke-width="1.0"/>
<polyline points="841.5,181 841.5,146 939,200.5 939,163" stroke-width="1.0" stroke-dasharray="11 2.5 2 2.5"/>
<polyline points="891,192.5 941,221" stroke-width="1.0" stroke-dasharray="11 2.5 2 2.5"/>
<path d="M875.3,131.6 L893.5,141.8 L891.3,146 L873.2,135.8 Z" fill="#6f6673" stroke-width="1.0"/>
<ellipse cx="894.8" cy="145.4" rx="3.4" ry="5.4" fill="#6f6673" stroke-width="1.3" transform="rotate(30 894.8 145.4)"/>
<path d="M893.4,143 L896.2,147.6 M896.6,143.6 L893,147.2" fill="none" stroke-width="0.8" stroke="#fff"/>
</g>
<g id="p_21_p840">
<polyline points="939.4,97 939.4,135" stroke-width="1.0" stroke-dasharray="11 2.5 2 2.5"/>
<path d="M920.3,80 L939.6,70.7 L953,82 L953,85 L937.6,98.3 L920.3,83.5 Z" fill="#fff" stroke-width="1.5"/>
<path d="M920.3,80 L937.6,95.3 L953,82 M937.6,95.3 L937.6,98.3" fill="none" stroke-width="1.2"/>
<path d="M924,80.2 L939.5,72.8 L950,81.8 L937.8,92.4 Z" fill="none" stroke-width="0.9"/>
<path d="M929.5,79 L940.5,74 L948.5,81 L938.5,89.5 Z" fill="#25152a" stroke-width="0.8"/>
<ellipse cx="939" cy="81.2" rx="2.6" ry="2.0" fill="#fff" stroke-width="0.8"/>
<ellipse cx="939" cy="81.2" rx="1.0" ry="0.8" fill="#25152a" stroke-width="0.5"/>
<path d="M934,105.5 L934,111.5 A5.4 2.8 0 0 0 944.8,111.5 L944.8,105.5 Z" fill="#25152a" stroke-width="1.0"/>
<ellipse cx="939.4" cy="105.5" rx="5.4" ry="2.8" fill="#fff" stroke-width="1.6"/>
<ellipse cx="939.4" cy="110.6" rx="4.2" ry="1.6" fill="none" stroke-width="0.9" stroke="#fff"/>
<ellipse cx="939.4" cy="124.6" rx="4.9" ry="2.8" fill="#fff" stroke-width="2.2"/>
<path d="M936.4,135.5 L936.4,140 L935.4,141.5 L935.4,158.5 L934.8,159.5 L934.8,161.5 A4.6 1.8 0 0 0 944.2,161.5 L944.2,159.5 L943.6,158.5 L943.6,141.5 L942.6,140 L942.6,135.5 A3.1 1.4 0 0 0 936.4,135.5 Z" fill="#fff" stroke-width="1.3"/>
<ellipse cx="939.5" cy="135.5" rx="3.1" ry="1.4" fill="#fff" stroke-width="1.1"/>
<path d="M936.4,138 A3.1 1.2 0 0 0 942.6,138 M935.4,158.5 A4.1 1.5 0 0 0 943.6,158.5" fill="none" stroke-width="0.9"/>
</g>
<g id="p_22_p36">
<path d="M987.9,189.9 L1010.5,200.6 L1015.7,206.7 L1027,221.1 L1043.4,239.7 L1064,258.2 C1071,265 1077,272 1080.5,278.7 C1084,285 1085.6,290 1085.6,295.2 C1085.6,301 1084.5,307 1082.5,311.7 C1079,319 1074,325 1068,330.2 C1060,336 1052,340 1043.4,341.5 C1035,342 1026,341 1018.7,338.4 C1011,336 1004,332.5 998.2,328.1 L995,333.3 C992,335.5 985,335 982.7,332.2 L980.7,322 L969.4,311.7 L964.2,301.4 L938.5,297.3 L931.3,282.9 L961.1,291 L964.2,276.7 L940.6,258.2 L931.3,250 L934.4,235.5 C936,230 939,225 942.6,221.1 L947.8,215 L952.9,210.9 L981.7,194.4 Z" fill="#fff" stroke-width="1.7"/>
<path d="M987.9,189.9 L981.7,195.4 L1004.3,204.7 L1015.7,234.5 L1020.8,231.4 L1010.5,200.6" fill="none" stroke-width="1.4"/>
<path d="M1004.3,204.7 L1010.5,200.6" fill="none" stroke-width="1.1"/>
<path d="M947.8,215 L971.4,221.1 L985.8,256.1 L981.7,259.2 L966.3,226.3 L948.8,218" fill="none" stroke-width="1.4"/>
<path d="M971.4,221.1 L966.3,226.3" fill="none" stroke-width="1.1"/>
<path d="M981.7,195.4 C977,202 973,211 971.4,221.1 M976,205.5 L987,201 L997,205 L992,209" fill="none" stroke-width="1.0"/>
<path d="M993.5,212 C995,209.5 998,209 1000,210.5 C1001.5,217 1000.5,224 998,229 C995,225 993.5,218 993.5,212 Z" fill="#fff" stroke-width="1.2"/>
<path d="M998,229 L1003,247 M1015.7,234.5 L1003,252" fill="none" stroke-width="1.0"/>
<path d="M1018.7,223.2 C1030,235 1042,250 1052,268 C1062,286 1068,306 1068,324" fill="none" stroke-width="0.9"/>
<path d="M942.6,221.1 C948,223.5 954,228 957,235.5 M940.6,258.2 C948,252 954,244 957,235.5 L966.3,230 M957,235.5 L966,262 M959,229.4 C953,240 951,252 953,264 M964,228 C958,240 956.5,254 959,268 M946.7,256.1 C950,248 953,240 955,233.5" fill="none" stroke-width="1.0"/>
<path d="M981.7,259.2 L978.6,261.3 L1003,283 M978.6,261.3 L981,265 L995,261.3 M985.8,256.1 L1000.2,250 L1002.3,251" fill="none" stroke-width="1.2"/>
<path d="M995,261.3 L1002.3,251 L1016.7,262.3 L1006.4,269.5 Z" fill="#fff" stroke-width="1.7"/>
<path d="M999,261 L1003.5,254.5 L1013,262" fill="none" stroke-width="1.0"/>
<path d="M1010.5,258.2 L1035.2,245.8" fill="none" stroke-width="2.6"/>
<path d="M996,282.9 L1005.4,270.5 L1010.5,264.5 L1035.2,245.8 C1038,244.5 1041,245 1043.4,246.9 L1064,262.3 C1071,268.5 1076,275.5 1079.4,282.9 C1080.5,286 1080,289 1078.4,291.1 L1047.5,303.4 C1043,304.5 1039,303.5 1035.2,301.4 L1012.6,292.1 Z" fill="none" stroke-width="1.6"/>
<path d="M1002.5,283.5 L1009.5,273.5 L1037,251.5 C1039.5,250.5 1041.5,251 1043.5,252.5 L1061.5,266 C1067.5,271.5 1072,277.5 1074.5,283.5 C1075.5,286 1075,287.5 1073.5,288.5 L1047,299 C1043.5,300 1040,299 1037,297.5 L1014,288.5 Z" fill="none" stroke-width="1.1"/>
<path d="M1047.5,303.4 L1050,311" fill="none" stroke-width="1.0"/>
<circle cx="1023.9" cy="278.3" r="3.9" fill="#fff" stroke-width="1.6"/>
<polyline points="1020.8,278.3 1027,278.3" stroke-width="1.2"/>
<polyline points="1023.9,275.2 1023.9,281.4" stroke-width="0.8"/>
<text x="1030" y="278" font-size="8.8" font-weight="700" transform="rotate(-29 1030 278)" textLength="26.5" lengthAdjust="spacingAndGlyphs" stroke-width="0.4" style="stroke:#25152a">BOSCH</text>
<path d="M1040.3,287.6 l5,-5.4 l0.9,2.3 l14,-6 l1.3,3 l-14,6 l0.9,2.3 Z" fill="#fff" stroke-width="1.1"/>
<path d="M964.2,276.7 C978,291 1000,305 1024,311.5 C1045,316 1066,309.5 1079.4,296" fill="none" stroke-width="1.1"/>
<path d="M964.2,301.4 C985,318.5 1010,329 1035,331.5 C1055,332.5 1072,322.5 1082.5,311.7" fill="none" stroke-width="1.3"/>
<path d="M969.4,311.7 C990,326.5 1012,334.5 1035,336 C1052,336.5 1066,330 1076,321" fill="none" stroke-width="1.8"/>
<path d="M998.2,328.1 C1010,334 1024,338.5 1036,339.2 C1050,339.5 1062,334.5 1070,328" fill="none" stroke-width="1.4"/>
<path d="M961.1,291 L964.2,301.4 M938.5,297.3 L945,290.5 L961.1,293" fill="none" stroke-width="1.0"/>
<path d="M931.3,282.9 L936.5,286.5 L961.1,293" fill="none" stroke-width="0.9"/>
<path d="M966,303.5 l5.5,-6 l4,8 l-4.5,6 M975.5,297 l0,14 M980.7,322 C985,325.5 991,327 998.2,328.1" fill="none" stroke-width="0.9"/>
</g>
<g id="p_23_gearcolumn">
<polyline points="855,229 855,672" stroke-width="1.0" stroke-dasharray="11 2.5 2 2.5"/>
<path d="M847,247.6 L847,258.5 A8.1 3.4 0 0 0 863.2,258.5 L863.2,247.6 Z" fill="#fff" stroke-width="1.5"/>
<ellipse cx="855.1" cy="247.6" rx="8.1" ry="3.4" fill="#fff" stroke-width="1.5"/>
<ellipse cx="855.1" cy="247.9" rx="5.6" ry="2.2" fill="#fff" stroke-width="1.6"/>
<polyline points="865.5,253 879,253" stroke-width="0.9"/>
<ellipse cx="855" cy="279.8" rx="10.6" ry="6.4" fill="none" stroke-width="3.2"/>
<ellipse cx="855" cy="279.8" rx="10.6" ry="6.4" fill="none" stroke-width="1.0" stroke="#fff"/>
<path d="M846,283 l-2.2,1.2 l0.6,2.4 l3,0.4 M851.5,286 l0.5,2.2 l2.8,0.6 l1.4,-1.8" fill="none" stroke-width="1.2"/>
<rect x="847.5" y="284.2" width="4" height="3" fill="#fff" stroke="none"/>
<polyline points="868,280.5 879,280.5" stroke-width="0.9"/>
<polyline points="855,262 855,300" stroke-width="1.0" stroke-dasharray="11 2.5 2 2.5"/>
<path d="M815.7,326.5 L815.7,333.5 A39.3 24 0 0 0 894.3,333.5 L894.3,326.5 Z" fill="#fff" stroke-width="1.6"/>
<ellipse cx="855" cy="326.5" rx="39.3" ry="24" fill="#fff" stroke-width="1.5"/>
<polyline points="893.6,326.5 881.66,329.2" stroke-width="1.5"/>
<polyline points="893.36,329.12 881.01,330.65" stroke-width="1.5"/>
<polyline points="893.36,329.12 893.36,331.62" stroke-width="0.9"/>
<polyline points="892.63,331.71 880.03,332.05" stroke-width="1.5"/>
<polyline points="892.63,331.71 892.63,334.21" stroke-width="0.9"/>
<polyline points="891.43,334.23 878.74,333.39" stroke-width="1.5"/>
<polyline points="891.43,334.23 891.43,336.73" stroke-width="0.9"/>
<polyline points="889.78,336.65 877.15,334.65" stroke-width="1.5"/>
<polyline points="889.78,336.65 889.78,339.15" stroke-width="0.9"/>
<polyline points="887.68,338.95 875.28,335.81" stroke-width="1.5"/>
<polyline points="887.68,338.95 887.68,341.45" stroke-width="0.9"/>
<polyline points="885.18,341.09 873.16,336.87" stroke-width="1.5"/>
<polyline points="885.18,341.09 885.18,343.59" stroke-width="0.9"/>
<polyline points="882.29,343.05 870.81,337.8" stroke-width="1.5"/>
<polyline points="882.29,343.05 882.29,345.55" stroke-width="0.9"/>
<polyline points="879.07,344.79 868.26,338.6" stroke-width="1.5"/>
<polyline points="879.07,344.79 879.07,347.29" stroke-width="0.9"/>
<polyline points="875.54,346.31 865.54,339.25" stroke-width="1.5"/>
<polyline points="875.54,346.31 875.54,348.81" stroke-width="0.9"/>
<polyline points="871.75,347.58 862.69,339.75" stroke-width="1.5"/>
<polyline points="871.75,347.58 871.75,350.08" stroke-width="0.9"/>
<polyline points="867.75,348.59 859.74,340.09" stroke-width="1.5"/>
<polyline points="867.75,348.59 867.75,351.09" stroke-width="0.9"/>
<polyline points="863.59,349.31 856.74,340.27" stroke-width="1.5"/>
<polyline points="863.59,349.31 863.59,351.81" stroke-width="0.9"/>
<polyline points="859.32,349.75 853.71,340.28" stroke-width="1.5"/>
<polyline points="859.32,349.75 859.32,352.25" stroke-width="0.9"/>
<polyline points="855.0,349.9 850.7,340.13" stroke-width="1.5"/>
<polyline points="855.0,349.9 855.0,352.4" stroke-width="0.9"/>
<polyline points="850.68,349.75 847.74,339.81" stroke-width="1.5"/>
<polyline points="850.68,349.75 850.68,352.25" stroke-width="0.9"/>
<polyline points="846.41,349.31 844.87,339.34" stroke-width="1.5"/>
<polyline points="846.41,349.31 846.41,351.81" stroke-width="0.9"/>
<polyline points="842.25,348.59 842.14,338.71" stroke-width="1.5"/>
<polyline points="842.25,348.59 842.25,351.09" stroke-width="0.9"/>
<polyline points="838.25,347.58 839.56,337.93" stroke-width="1.5"/>
<polyline points="838.25,347.58 838.25,350.08" stroke-width="0.9"/>
<polyline points="834.46,346.31 837.18,337.02" stroke-width="1.5"/>
<polyline points="834.46,346.31 834.46,348.81" stroke-width="0.9"/>
<polyline points="830.93,344.79 835.02,335.98" stroke-width="1.5"/>
<polyline points="830.93,344.79 830.93,347.29" stroke-width="0.9"/>
<polyline points="827.71,343.05 833.11,334.83" stroke-width="1.5"/>
<polyline points="827.71,343.05 827.71,345.55" stroke-width="0.9"/>
<polyline points="824.82,341.09 831.48,333.58" stroke-width="1.5"/>
<polyline points="824.82,341.09 824.82,343.59" stroke-width="0.9"/>
<polyline points="822.32,338.95 830.14,332.25" stroke-width="1.5"/>
<polyline points="822.32,338.95 822.32,341.45" stroke-width="0.9"/>
<polyline points="820.22,336.65 829.12,330.86" stroke-width="1.5"/>
<polyline points="820.22,336.65 820.22,339.15" stroke-width="0.9"/>
<polyline points="818.57,334.23 828.42,329.42" stroke-width="1.5"/>
<polyline points="818.57,334.23 818.57,336.73" stroke-width="0.9"/>
<polyline points="817.37,331.71 828.06,327.95" stroke-width="1.5"/>
<polyline points="817.37,331.71 817.37,334.21" stroke-width="0.9"/>
<polyline points="816.64,329.12 828.03,326.47" stroke-width="1.5"/>
<polyline points="816.64,329.12 816.64,331.62" stroke-width="0.9"/>
<polyline points="816.4,326.5 828.34,325.0" stroke-width="1.5"/>
<polyline points="816.64,323.88 828.99,323.55" stroke-width="1.5"/>
<polyline points="817.37,321.29 829.97,322.15" stroke-width="1.5"/>
<polyline points="818.57,318.77 831.26,320.81" stroke-width="1.5"/>
<polyline points="820.22,316.35 832.85,319.55" stroke-width="1.5"/>
<polyline points="822.32,314.05 834.72,318.39" stroke-width="1.5"/>
<polyline points="824.82,311.91 836.84,317.33" stroke-width="1.5"/>
<polyline points="827.71,309.95 839.19,316.4" stroke-width="1.5"/>
<polyline points="830.93,308.21 841.74,315.6" stroke-width="1.5"/>
<polyline points="834.46,306.69 844.46,314.95" stroke-width="1.5"/>
<polyline points="838.25,305.42 847.31,314.45" stroke-width="1.5"/>
<polyline points="842.25,304.41 850.26,314.11" stroke-width="1.5"/>
<polyline points="846.41,303.69 853.26,313.93" stroke-width="1.5"/>
<polyline points="850.68,303.25 856.29,313.92" stroke-width="1.5"/>
<polyline points="855.0,303.1 859.3,314.07" stroke-width="1.5"/>
<polyline points="859.32,303.25 862.26,314.39" stroke-width="1.5"/>
<polyline points="863.59,303.69 865.13,314.86" stroke-width="1.5"/>
<polyline points="867.75,304.41 867.86,315.49" stroke-width="1.5"/>
<polyline points="871.75,305.42 870.44,316.27" stroke-width="1.5"/>
<polyline points="875.54,306.69 872.82,317.18" stroke-width="1.5"/>
<polyline points="879.07,308.21 874.98,318.22" stroke-width="1.5"/>
<polyline points="882.29,309.95 876.89,319.37" stroke-width="1.5"/>
<polyline points="885.18,311.91 878.52,320.62" stroke-width="1.5"/>
<polyline points="887.68,314.05 879.86,321.95" stroke-width="1.5"/>
<polyline points="889.78,316.35 880.88,323.34" stroke-width="1.5"/>
<polyline points="891.43,318.77 881.58,324.78" stroke-width="1.5"/>
<polyline points="892.63,321.29 881.94,326.25" stroke-width="1.5"/>
<polyline points="893.36,323.88 881.97,327.73" stroke-width="1.5"/>
<ellipse cx="855" cy="327.1" rx="26.6" ry="12.8" fill="#fff" stroke-width="1.3"/>
<ellipse cx="855" cy="329" rx="8" ry="4.5" fill="#fff" stroke-width="1.1"/>
<path d="M861.5,331.5 l2.5,0.5 l-0.5,2 l-3.5,0.3" fill="none" stroke-width="0.9"/>
<ellipse cx="849.4" cy="319" rx="4" ry="2.3" fill="#fff" stroke-width="1.0"/>
<ellipse cx="873.6" cy="332.7" rx="4" ry="2.3" fill="#fff" stroke-width="1.0"/>
<ellipse cx="842.5" cy="337.3" rx="3.6" ry="2.0" fill="#fff" stroke-width="1.0"/>
<polyline points="855,300 855,329" stroke-width="1.0" stroke-dasharray="11 2.5 2 2.5"/>
<ellipse cx="855" cy="390.9" rx="37.2" ry="22" fill="none" stroke-width="3.0"/>
<ellipse cx="855" cy="390.9" rx="37.2" ry="22" fill="none" stroke-width="0.9" stroke="#fff"/>
<polyline points="873,426 873,464" stroke-width="1.0" stroke-dasharray="11 2.5 2 2.5"/>
<rect x="870.2" y="419" width="5.6" height="7.6" fill="#25152a" stroke="none"/>
<path d="M867.8,415.5 C867.8,412.5 878.2,412.5 878.2,415.5 L878.2,418 C878.2,420.5 867.8,420.5 867.8,418 Z" fill="#fff" stroke-width="1.3"/>
<path d="M870,414.6 L876,416.4 M876,414.6 L870,416.4" fill="none" stroke-width="0.7"/>
<path d="M826.5,446.2 C826,436.2 838,430.2 852,429.2 C855,425.7 864,425.7 866,429.7 C877,432.2 884,438.2 883.6,445.2 C883.5,449.2 881,452.2 878,454.2 C878.5,458.2 870,460.7 867.5,458.2 C858,461.2 846,460.7 838,457.2 C832,455.2 829,453.2 828.5,452.2 C824,452.2 823,447.2 826.5,446.2 Z" fill="#fff" stroke-width="1.4"/>
<path d="M826.5,444 C826,434 838,428 852,427 C855,423.5 864,423.5 866,427.5 C877,430 884,436 883.6,443 C883.5,447 881,450 878,452 C878.5,456 870,458.5 867.5,456 C858,459 846,458.5 838,455 C832,453 829,451 828.5,450 C824,450 823,445 826.5,444 Z" fill="#fff" stroke-width="1.4"/>
<ellipse cx="855" cy="442.3" rx="16.7" ry="9.2" fill="#fff" stroke-width="1.6"/>
<path d="M839.5,445 C842,451 866,452.5 871,444.5" fill="none" stroke-width="0.9"/>
<ellipse cx="861" cy="427.3" rx="2.6" ry="1.5" fill="#6f6673" stroke-width="1.0"/>
<ellipse cx="830.5" cy="446.5" rx="2.6" ry="1.6" fill="#fff" stroke-width="1.1"/>
<ellipse cx="873" cy="453.3" rx="2.6" ry="1.6" fill="#fff" stroke-width="1.1"/>
<polyline points="855,404 855,443" stroke-width="1.0" stroke-dasharray="11 2.5 2 2.5"/>
<path d="M832.6,481.6 L832.6,493 A22.4 11.5 0 0 0 877.4,493 L877.4,481.6 Z" fill="#fff" stroke-width="1.5"/>
<ellipse cx="855" cy="481.6" rx="22.4" ry="11.5" fill="#fff" stroke-width="1.5"/>
<ellipse cx="855" cy="481.9" rx="17.6" ry="8.8" fill="#fff" stroke-width="1.0"/>
<ellipse cx="855" cy="482.1" rx="14.2" ry="7.0" fill="#fff" stroke-width="1.4"/>
<ellipse cx="855" cy="482.4" rx="10.4" ry="5.0" fill="#fff" stroke-width="1.0"/>
<ellipse cx="855" cy="482.6" rx="7.0" ry="3.3" fill="#fff" stroke-width="1.3"/>
<polyline points="855,463 855,483" stroke-width="1.0" stroke-dasharray="11 2.5 2 2.5"/>
<ellipse cx="855" cy="526.4" rx="17.6" ry="10.3" fill="#fff" stroke-width="1.8"/>
<ellipse cx="855" cy="526.6" rx="8.6" ry="4.8" fill="#fff" stroke-width="1.5"/>
<polyline points="855,506 855,527" stroke-width="1.0" stroke-dasharray="11 2.5 2 2.5"/>
<polyline points="899,547.5 899,606" stroke-width="1.0" stroke-dasharray="11 2.5 2 2.5"/>
<path d="M826.2,598 L831.7,612 C838,619.5 872,619.5 879,609 L883.2,598 Z" fill="#fff" stroke-width="1.5"/>
<path d="M829,605.5 C838,613 872,613 881,604" fill="none" stroke-width="1.0"/>
<path d="M804,575.8000000000001 L819.5,564.2 L836,555.2 L874,555.2 L893,566.2 L907,576.2 C909.5,579.2 909.5,583.2 907,585.7 L866,610.2 C860,613.7 852,613.7 846,610.7 L805.3,585.5 C802,583.2 802,578.2 804,575.8000000000001 Z" fill="#fff" stroke-width="1.5"/>
<path d="M804,572.6 L819.5,561 L836,552 L874,552 L893,563 L907,573 C909.5,576 909.5,580 907,582.5 L866,607 C860,610.5 852,610.5 846,607.5 L805.3,582.3 C802,580 802,575 804,572.6 Z" fill="#fff" stroke-width="1.5"/>
<ellipse cx="855" cy="573.5" rx="38.6" ry="26.2" fill="#fff" stroke-width="1.8"/>
<ellipse cx="855" cy="574.5" rx="35.4" ry="23.6" fill="#fff" stroke-width="1.1"/>
<ellipse cx="855" cy="575.5" rx="32.6" ry="21.4" fill="#fff" stroke-width="1.4"/>
<ellipse cx="855" cy="576.8" rx="29.2" ry="18.6" fill="#fff" stroke-width="1.0"/>
<ellipse cx="855" cy="578.5" rx="24.5" ry="14.6" fill="#fff" stroke-width="1.4"/>
<ellipse cx="855" cy="579.8" rx="20.2" ry="11.2" fill="#fff" stroke-width="1.6"/>
<path d="M838,585 C843,593 867,593 872,585 M842,588.5 C847,594.5 863,594.5 868,588.5" fill="none" stroke-width="1.1"/>
<path d="M858,561.5 l4,-1.2 l0,5 l-4,1.2 Z M866,560 l3.6,-1 l0,4.6 l-3.6,1 Z" fill="none" stroke-width="1.0"/>
<ellipse cx="877" cy="562.5" rx="3" ry="1.8" fill="none" stroke-width="1.0" transform="rotate(-15 877 562.5)"/>
<ellipse cx="810" cy="577.3" rx="2.6" ry="1.7" fill="#fff" stroke-width="1.1"/>
<ellipse cx="899" cy="578" rx="2.4" ry="1.6" fill="#fff" stroke-width="1.1"/>
<ellipse cx="854.6" cy="603.4" rx="2.6" ry="1.6" fill="#fff" stroke-width="1.1"/>
<polyline points="855,538 855,592" stroke-width="1.0" stroke-dasharray="11 2.5 2 2.5"/>
<rect x="896.3" y="607" width="5.4" height="13" fill="#6f6673" stroke="#25152a" stroke-width="1.0"/>
<ellipse cx="899" cy="623" rx="4.6" ry="3.6" fill="#6f6673" stroke-width="1.2"/>
<ellipse cx="899" cy="623.6" rx="2.6" ry="1.8" fill="#fff" stroke-width="0.7"/>
<polyline points="855,620 855,641" stroke-width="1.0" stroke-dasharray="11 2.5 2 2.5"/>
<ellipse cx="855" cy="642.4" rx="23" ry="13" fill="#fff" stroke-width="2.8"/>
<ellipse cx="855" cy="640.6" rx="12.6" ry="7" fill="#fff" stroke-width="1.4"/>
<path d="M842.4,640.6 L842.4,643.2 A12.6 7 0 0 0 867.6,643.2 L867.6,640.6" fill="none" stroke-width="1.2"/>
<ellipse cx="855" cy="641.4" rx="9.8" ry="5.2" fill="#fff" stroke-width="1.0"/>
<polyline points="855,628 855,641" stroke-width="1.0" stroke-dasharray="11 2.5 2 2.5"/>
<polyline points="883,685.3 863.8,696.4" stroke-width="0.9"/>
<path d="M885.2,677 C888.5,676 889.8,678.5 889.8,681.5 L889.8,686 L884.6,685 C883.4,682 883.8,679 885.2,677 Z" fill="#fff" stroke-width="1.3"/>
<path d="M886.2,677.5 L887.6,685.5" fill="none" stroke-width="0.8"/>
<polyline points="855,657 855,672" stroke-width="1.0" stroke-dasharray="11 2.5 2 2.5"/>
<path d="M849.8,671.5 L849.8,682.5 L847.4,684.5 L847.4,688 L848.4,689.5 L848.4,712.5 L846,714.5 L846,718 L840.2,721 L840.2,734 L845.7,737.5 L845.7,752 A9.6 2.6 0 0 0 865,752 L865,737.5 L870.6,734 L870.6,721 L864.6,718 L864.6,714.5 L862.2,712.5 L862.2,689.5 L863.4,688 L863.4,684.5 L861,682.5 L861,671.5 A5.6 2 0 0 0 849.8,671.5 Z" fill="#fff" stroke-width="1.5"/>
<ellipse cx="855.4" cy="671.5" rx="5.6" ry="2.0" fill="#fff" stroke-width="1.3"/>
<path d="M847.4,684.5 C851,686.5 860,686.5 863.4,684.5 M847.4,688 C851,690 860,690 863.4,688 M848.4,712.5 C852,714.5 859,714.5 862.2,712.5 M846,718 C851,720 860,720 864.6,718" fill="none" stroke-width="1.0"/>
<path d="M840.2,721 L846,724 L860,724 L870.6,721 M846,724 L846,737 M860,724 L860,737 M840.2,734 L846,737 L860,737 L870.6,734" fill="none" stroke-width="1.1"/>
<path d="M851.5,692 l0,12 M851.5,698 l2.2,0 l0,6" fill="none" stroke-width="0.9"/>
<path d="M845.7,737.5 L845.7,752 A9.6 2.6 0 0 0 865,752 L865,737.5 Z" fill="#25152a" stroke="#25152a" stroke-width="1.2"/>
<path d="M846,741 C850,742.6 861,742.6 864.8,741" fill="none" stroke-width="0.6" stroke="#9a93a0"/>
<path d="M846,744 C850,745.6 861,745.6 864.8,744" fill="none" stroke-width="0.6" stroke="#9a93a0"/>
<path d="M846,747 C850,748.6 861,748.6 864.8,747" fill="none" stroke-width="0.6" stroke="#9a93a0"/>
<path d="M846,750 C850,751.6 861,751.6 864.8,750" fill="none" stroke-width="0.6" stroke="#9a93a0"/>
</g>
<g id="p_30_cable">
<path d="M138.4,213.2 C128,211.5 118,211.5 108.4,212.7 C98,214 90,217.5 82.8,222 C73,228 66.5,235 62.2,242.6 C58.5,249 56.3,255 56.3,261.5 C56.3,268 58.5,274.5 62.2,280.3 C67,287.5 73.5,293 81,298.2 L86.2,289.7 C79.5,285.5 74,281.5 70,276.9 C66.5,272.5 64.8,267 64.8,261.5 C64.8,256.5 66.5,252 70,247.8 C74.5,240.5 80,235 87.9,230.7 C95,226.5 103,223 111.9,221.3 C120,220 130,220 138.4,221.5 C137,219.5 140,218 138,216.5 C137,215 140,214 138.4,213.2 Z" fill="#fff" stroke-width="1.4"/>
<path d="M142.7,214.2 C150,215 157,217 163.2,220.4 C169,223.5 174,227.5 178.6,232.4 L188,241.8 L182,246 L175.2,239.2 C171,234 165.5,230 159.8,227.2 C154,224.5 148,223 142.7,222.3 C141,220.5 144,219 142.2,217.5 C141,216 144,215 142.7,214.2 Z" fill="#fff" stroke-width="1.4"/>
<path d="M182,246 L188,241.8 L198,253 L193.5,262 L190,259 Z" fill="#fff" stroke-width="1.3"/>
<path d="M184,243.5 L187.5,248.5 M186.5,241.5 L190.5,246.5 M189,243.5 L193,248.5 M183,246.5 L194,243" fill="none" stroke-width="1.1"/>
<path d="M190.6,263.2 L197,256 L204.2,256.3 L207,252.8 L213,253.3 L213.6,257 L220,256.3 L224.8,259.7 L226.5,264 L228.4,268.3 L226.5,272 L227,276 L224.8,280.3 L218,287 L211,293.1 L206,292.5 L202.5,290.5 L198,285.5 L195,284 L194,278.6 L191,272 Z" fill="#fff" stroke-width="1.5"/>
<path d="M194,278.6 C194,270 199,262.5 207,259.5 L211,258 M211,256 L211,262.5 C211,265.5 214.5,265.5 214.5,262.5 L214.5,257" fill="none" stroke-width="1.2"/>
<path d="M197,256 L200,262 M198,285.5 L199.5,281" fill="none" stroke-width="1.0"/>
<line x1="204.5" y1="279" x2="212" y2="288.5" stroke-width="6.6000000000000005" stroke-linecap="round"/>
<line x1="204.5" y1="279" x2="212" y2="288.5" stroke-width="4.4" stroke-linecap="round" stroke="#fff"/>
<line x1="223" y1="273" x2="231.5" y2="282.5" stroke-width="6.6000000000000005" stroke-linecap="round"/>
<line x1="223" y1="273" x2="231.5" y2="282.5" stroke-width="4.4" stroke-linecap="round" stroke="#fff"/>
<path d="M213,284 C214.5,283 216.5,284 216,286.5 L214.5,290.5" fill="none" stroke-width="1.1"/>
<path d="M86.8,287.6 C83.5,287 79.5,293 81.5,297.6 L120.4,323 L151.2,340.2 L158,319.6 L122,307.7 Z" fill="#fff" stroke-width="1.4"/>
<path d="M121.8,308 C119.5,312 119,318 120.6,323 M127.6,310 C125.2,314.5 125,321 126.6,326.5 M134.5,312.3 C132,317 132,324.5 133.6,330.3" fill="none" stroke-width="1.0"/>
<ellipse cx="162.6" cy="333" rx="9.3" ry="14.8" fill="#fff" stroke-width="1.5" transform="rotate(22 162.6 333)"/>
<ellipse cx="160.3" cy="331.8" rx="8.6" ry="13.6" fill="#fff" stroke-width="1.2" transform="rotate(22 160.3 331.8)"/>
<ellipse cx="163.2" cy="333.3" rx="6.3" ry="10.2" fill="#fff" stroke-width="1.3" transform="rotate(22 163.2 333.3)"/>
<ellipse cx="163.8" cy="333.6" rx="2.9" ry="4.7" fill="#fff" stroke-width="1.1" transform="rotate(22 163.8 333.6)"/>
</g>
<g id="p_40_handle_left">
<polyline points="135,481 148,473.5" stroke-width="1.0" stroke-dasharray="11 2.5 2 2.5"/>
<polyline points="213.6,436.7 262,408.5" stroke-width="1.0" stroke-dasharray="11 2.5 2 2.5"/>
<path d="M165.7,418.7 C156,421 147,432 145,444.4 C143.5,455 145.5,465 148.6,471.7 C151,476 154,478 157,477.7 C161,477 164,474 165.7,470.9 L170.8,468.3 L215.3,488.8 L225.5,504.2 L234,512.8 L249.5,514.5 L252,508 L257.2,504.5 C254,510 254,517 255.4,522.7 C257.5,530.5 261,537 266.3,542.6 C273,549.5 282,555.5 291.7,560.8 L306.2,571.7 C314,571.5 321,567.5 324.4,562.6 C323,558 320,555.5 317,555.4 C312,556 309,559.5 306,560.5 L299,559 L297,550 L295.3,550 L291.7,544.5 L306.2,524.5 L299,522.7 L300.8,515.4 L320.8,506.3 L324.4,497.2 L317,484.5 L299,485.4 L300,478.5 L287,474.3 L282,467.4 L270,466.6 L251.2,456.3 L213.6,436.7 Z" fill="#fff" stroke-width="1.6"/>
<path d="M165.7,418.7 C160,424 157,436 158,448 C158.5,458 161,466 165.7,470.9 M148,463 C152,461 156,461 160,463 M156,461.5 C155,467 155.5,473 157,477.7" fill="none" stroke-width="1.1"/>
<path d="M167.4,423.8 C164,428 163,434 164,439.2 C164.5,448 166,456 169,461.5 L196.5,468.3 L208.4,480.3 L242.6,490.5 C246,488 248.5,484.5 249.5,480.3 C252,473 254.5,465 256.3,458" fill="none" stroke-width="2.6"/>
<path d="M174.2,425.5 C171.5,430 171,435 171.7,439.2 C172.5,446 174,451 176.8,454.6 L203.3,461.5 L213.6,471.7 L239.2,476.9 C242,474.5 243.5,471 244.4,466.6 C246,462 247,458 248,455" fill="none" stroke-width="2.4"/>
<path d="M180,427.5 C178,433 178,440 180,446 L206,456 L217,466 L236,469 C238.5,466 240,462 241,458" fill="none" stroke-width="1.1"/>
<ellipse cx="183.6" cy="449.5" rx="4.8" ry="7" fill="#fff" stroke-width="1.5" transform="rotate(15 183.6 449.5)"/>
<path d="M180.5,444 C184,442.5 187.5,445.5 188,450" fill="none" stroke-width="0.9"/>
<path d="M170.8,468.3 C185,472 200,478 215.3,488.8 M215.3,488.8 L222,491.5 L234,512.8 M222,491.5 L246,497 C250,503 253,506 257.2,504.5" fill="none" stroke-width="1.1"/>
<path d="M249.5,480.3 C251,490 252,498 252,508" fill="none" stroke-width="1.0"/>
<path d="M256.3,458 C262,461 266,464 270,466.6 M262,460 C258,470 256,482 257,493 M266,463.5 C262,474 261,486 263,497" fill="none" stroke-width="1.2"/>
<path d="M270,466.6 C266,477 266,490 270,500 M282,467.4 C276,479 276,492 280,503" fill="none" stroke-width="1.1"/>
<path d="M287,474.3 L290,478 L304,483.5 L300,478.5 M290,478 C286,488 286,497 290,504 L300.8,515.4 M304,483.5 L300,494 L312,499.5 L316,489 Z M312,499.5 L309,508 L297,503 L300,494" fill="none" stroke-width="1.3"/>
<path d="M299,485.4 L317,484.5 L324.4,497.2 L320.8,506.3 L302.6,504.5 Z" fill="#fff" stroke-width="1.5"/>
<path d="M302.6,504.5 L300.8,515.4 L320.8,506.3 M304,489 L316,488.5 L320.5,497 M306,492.5 L318,492" fill="none" stroke-width="1.1"/>
<path d="M294,487 l2.6,1 l-1,-2.6 Z" fill="#25152a" stroke-width="0.6"/>
<path d="M290,504 C281,499.5 268,501 261.5,509 C257,517 258.5,530 266.3,542.6 C273,551 282,557 291.7,562.8" fill="none" stroke-width="2.2"/>
<path d="M288,510 C280,506.5 272,508 268,514 C264.5,521 266,531 272,541 C277,548 284,553 292,557.5" fill="none" stroke-width="1.2"/>
<path d="M253.6,510 C252.5,516 254,521 257.2,524.5 M290,504 L296,508 L300.8,515.4" fill="none" stroke-width="1.2"/>
<ellipse cx="265" cy="510.5" rx="3.6" ry="5.4" fill="#fff" stroke-width="1.2" transform="rotate(25 265 510.5)"/>
<ellipse cx="296.5" cy="513.5" rx="5.2" ry="3.2" fill="#fff" stroke-width="1.2" transform="rotate(-28 296.5 513.5)"/>
<path d="M270.5,519.5 L293.4,531.7 L294.6,534.7 L271.7,522.5 Z" fill="#fff" stroke-width="1.3"/>
<path d="M274.5,525.7 L295.3,536.8 L296.5,539.8 L275.7,528.7 Z" fill="#fff" stroke-width="1.3"/>
<path d="M278.5,531.9 L297.2,541.9 L298.4,544.9 L279.7,534.9 Z" fill="#fff" stroke-width="1.3"/>
<path d="M282.5,538.1 L299.0,546.9 L300.2,549.9 L283.7,541.1 Z" fill="#fff" stroke-width="1.3"/>
<path d="M286.5,544.3 L300.9,552.0 L302.1,555.0 L287.7,547.3 Z" fill="#fff" stroke-width="1.3"/>
<path d="M290.5,550.5 L302.8,557.1 L304.0,560.1 L291.7,553.5 Z" fill="#fff" stroke-width="1.3"/>
<path d="M293.5,542.6 C290,545 288,549 288,553 M306.2,524.5 C300,529 296,536 295.5,544" fill="none" stroke-width="1.2"/>
<path d="M295.3,550 C303,551 311,553 318,557 M299,559 C303,562.5 309,565 315,564.5" fill="none" stroke-width="1.1"/>
<path d="M317,555.4 C314,551 309,550 306,553.5 L306,560.5" fill="none" stroke-width="1.2"/>
</g>
<g id="p_41_ventcover_screws">
<path d="M120.97,491.45 L135.27,482.33 L135.80,480.25 L133.73,479.67 L118.67,487.46 Z" fill="#6f6673" stroke-width="1.0"/>
<ellipse cx="118" cy="490.5" rx="3.024" ry="4.2" fill="#6f6673" stroke-width="1.4" transform="rotate(-29.931511840507792 118 490.5)"/>
<ellipse cx="117.30670203450066" cy="490.89917155589353" rx="3.024" ry="4.2" fill="#6f6673" stroke-width="1.3" transform="rotate(-29.931511840507792 117.30670203450066 490.89917155589353)"/>
<path d="M115.31,489.30 l3.6,3.6 M118.71,488.70 l-3,4.2" fill="none" stroke-width="0.9" stroke="#fff"/>
<path d="M183.88,561.50 L192.26,555.83 L192.80,553.76 L190.74,553.17 L181.60,557.51 Z" fill="#6f6673" stroke-width="1.0"/>
<ellipse cx="181" cy="560.5" rx="2.88" ry="4.0" fill="#6f6673" stroke-width="1.4" transform="rotate(-29.74488129694222 181 560.5)"/>
<ellipse cx="180.30540548630043" cy="560.8969111506855" rx="2.88" ry="4.0" fill="#6f6673" stroke-width="1.3" transform="rotate(-29.74488129694222 180.30540548630043 560.8969111506855)"/>
<path d="M178.31,559.30 l3.6,3.6 M181.71,558.70 l-3,4.2" fill="none" stroke-width="0.9" stroke="#fff"/>
<path d="M168.96,590.48 L183.75,581.34 L184.31,579.27 L182.25,578.66 L166.71,586.47 Z" fill="#6f6673" stroke-width="1.0"/>
<ellipse cx="166" cy="589.5" rx="3.024" ry="4.2" fill="#6f6673" stroke-width="1.4" transform="rotate(-29.197486046064476 166 589.5)"/>
<ellipse cx="165.30164521429018" cy="589.890257086132" rx="3.024" ry="4.2" fill="#6f6673" stroke-width="1.3" transform="rotate(-29.197486046064476 165.30164521429018 589.890257086132)"/>
<path d="M163.30,588.29 l3.6,3.6 M166.70,587.69 l-3,4.2" fill="none" stroke-width="0.9" stroke="#fff"/>
<path d="M243.32,406.16 L250.19,401.87 L250.84,399.83 L248.81,399.13 L241.26,402.05 Z" fill="#6f6673" stroke-width="1.0"/>
<ellipse cx="240.5" cy="405" rx="2.88" ry="4.0" fill="#6f6673" stroke-width="1.4" transform="rotate(-26.56505117707799 240.5 405)"/>
<ellipse cx="239.78445824720006" cy="405.35777087639997" rx="2.88" ry="4.0" fill="#6f6673" stroke-width="1.3" transform="rotate(-26.56505117707799 239.78445824720006 405.35777087639997)"/>
<path d="M237.78,403.76 l3.6,3.6 M241.18,403.16 l-3,4.2" fill="none" stroke-width="0.9" stroke="#fff"/>
<path d="M205.4,536.3 C206,533.5 209,532.5 211.8,533.6 L273.5,569 L275.4,582.6 L272,586 L275.2,588 L275.2,592 L271.5,594 L270.5,600 L274.2,602 L274.2,606 L270,608 L262.6,608 C245,602 228,592 217.2,579 C211,571 208.5,564 208.2,557.2 Z" fill="#fff" stroke-width="1.5"/>
<path d="M210.5,548 L236,561.5 C234,572 236,583 240.5,592.5 C231,589 222,582.5 217.2,576 C212.5,569 210,558 210.5,548 Z" fill="#25152a" stroke-width="1.0"/>
<path d="M239.5,563.5 C238.0,573.5 240.0,583.5 244.5,594.0 L246.9,595.3 C242.5,584.5 240.5,574.5 241.9,564.7 Z" fill="#25152a" stroke-width="0.6"/>
<path d="M243.8,565.8 C242.3,575.8 244.3,585.8 248.8,596.1 L251.2,597.4 C246.8,586.8 244.8,576.8 246.2,567.0 Z" fill="#25152a" stroke-width="0.6"/>
<path d="M248.1,568.1 C246.6,578.1 248.6,588.1 253.1,598.2 L255.5,599.5 C251.1,589.1 249.1,579.1 250.5,569.3 Z" fill="#25152a" stroke-width="0.6"/>
<path d="M252.4,570.4 C250.9,580.4 252.9,590.4 257.4,600.3 L259.8,601.6 C255.4,591.4 253.4,581.4 254.8,571.6 Z" fill="#25152a" stroke-width="0.6"/>
<path d="M256.7,572.7 C255.2,582.7 257.2,592.7 261.7,602.4 L264.1,603.7 C259.7,593.7 257.7,583.7 259.1,573.9 Z" fill="#25152a" stroke-width="0.6"/>
<path d="M261.0,575.0 C259.5,585.0 261.5,595.0 266.0,604.5 L268.4,605.8 C264.0,596.0 262.0,586.0 263.4,576.2 Z" fill="#25152a" stroke-width="0.6"/>
<path d="M265.3,577.3 C263.8,587.3 265.8,597.3 270.3,606.6 L272.7,607.9 C268.3,598.3 266.3,588.3 267.7,578.5 Z" fill="#25152a" stroke-width="0.6"/>
<path d="M207.5,541.5 L268.5,574.5 L270.5,600 M209.5,537.5 L271.5,571.5 M268.5,574.5 L273.5,571" fill="none" stroke-width="1.1"/>
<path d="M208.2,557.2 L207.5,541.5" fill="none" stroke-width="1.0"/>
<ellipse cx="207.8" cy="540.5" rx="1.4" ry="2.0" fill="#fff" stroke-width="0.8"/>
<path d="M262.6,608 L263.5,577" fill="none" stroke-width="1.0"/>
</g>
<g id="p_42_clamp7_wire">
<path d="M184.6,343.2 C183,344.5 183.2,347.6 185,348.4 L207.5,358.6 L210,353.4 L187,343 C186,342.6 185.2,342.7 184.6,343.2 Z" fill="#fff" stroke-width="1.3"/>
<path d="M207.5,358.6 C206,356.5 207.5,353.6 210,353.4 M209,356 C214,355 216,359 220,358.5 C223,358 226,359 229.5,361.5 M209,357.5 C213,359 214,363 212,365.5 C215,365 218,366.5 219.5,369" fill="none" stroke-width="1.1"/>
<polyline points="272,397.5 330,364" stroke-width="1.0" stroke-dasharray="11 2.5 2 2.5"/>
<polyline points="275,412 300,426" stroke-width="1.0" stroke-dasharray="11 2.5 2 2.5"/>
<path d="M256.8,391 C257.2,386.4 263.5,385 267.5,388 C271,391 272.4,395.5 271,399.5 L273.8,410.8 C274.2,416.6 269,419 265,416.4 C261,413.5 259.6,409 260.4,404.5 Z" fill="#fff" stroke-width="1.7"/>
<path d="M260.5,387.5 C258.6,389.5 258.6,392.5 260,395.5 L263,406.5 C262.6,410.5 264,414 266.5,416.5" fill="none" stroke-width="1.2"/>
<ellipse cx="264.6" cy="392.3" rx="2.8" ry="3.6" fill="#fff" stroke-width="1.4" transform="rotate(-15 264.6 392.3)"/>
<ellipse cx="267.8" cy="409" rx="2.8" ry="3.6" fill="#fff" stroke-width="1.4" transform="rotate(-15 267.8 409)"/>
</g>
<g id="p_43_handle_right">
<polyline points="292,379 331,366.5" stroke-width="1.0" stroke-dasharray="11 2.5 2 2.5"/>
<polyline points="317,401 363,376" stroke-width="1.0" stroke-dasharray="11 2.5 2 2.5"/>
<polyline points="368.5,427 415,400.5" stroke-width="1.0" stroke-dasharray="11 2.5 2 2.5"/>
<polyline points="436,441.5 463,426" stroke-width="1.0" stroke-dasharray="11 2.5 2 2.5"/>
<polyline points="528,404 545,394" stroke-width="1.0" stroke-dasharray="11 2.5 2 2.5"/>
<path d="M336.2,318.8 L346.5,315.1 L353,315.5 L405,334 L457.5,365 C462,362.5 468,363.5 472.6,365.7 L504.4,377 L509,385.4 L524,395.2 L528,408 L524,430.8 L518,444.4 L498.4,462.6 L493.8,459.6 L460.5,444.4 L456,436.9 L453.7,405 L447,400.5 L431,406 L415,409.6 L409,397.5 L407,394.5 L399.8,388.4 L375.5,380 L350,364.2 L338,375.7 L329.5,367.8 L328.3,350.9 L333,340 L328.3,332.1 L336.2,329 Z" fill="#fff" stroke-width="1.6"/>
<path d="M349,327.2 C380,334 420,352 458,373" fill="none" stroke-width="3.8"/>
<path d="M353,324.5 C384,331.5 424,349.5 460,370" fill="none" stroke-width="1.0"/>
<path d="M338,320.5 L347.5,324 L349,327.2 M346.5,315.1 L347.5,324" fill="none" stroke-width="1.2"/>
<path d="M341,319.5 L350.5,322.5 M355.5,317 L351,324 M361,319 L356.5,326 M434,349.5 L430,356.5 M439.5,352.5 L436,359.5" fill="none" stroke-width="1.4"/>
<path d="M352,330.5 C382,338 420,356 455,376" fill="none" stroke-width="1.0"/>
<path d="M336.2,329 L340,331 L340,345 C340,352 337,358 333,362 M328.3,332.1 L333,334.5 L340,331 M333,340 L340,345 M329.5,367.8 C333,363 339,362 343,364 L350,364.2" fill="none" stroke-width="1.2"/>
<path d="M345,327.5 L345,352 C345,358 343,362 340,365" fill="none" stroke-width="1.0"/>
<ellipse cx="334.5" cy="341" rx="2.4" ry="3.0" fill="#fff" stroke-width="1.0"/>
<ellipse cx="333.4" cy="366" rx="3.2" ry="3.8" fill="#fff" stroke-width="1.3"/>
<ellipse cx="333.4" cy="366" rx="1.5" ry="1.9" fill="#fff" stroke-width="0.9"/>
<path d="M331,350 L337,353 L335,359 L330,356.5 Z" fill="none" stroke-width="1.0"/>
<ellipse cx="357.4" cy="342.4" rx="3.6" ry="4.2" fill="#fff" stroke-width="1.4" transform="rotate(-20 357.4 342.4)"/>
<ellipse cx="357.4" cy="342.4" rx="1.6" ry="2.0" fill="#fff" stroke-width="1.0" transform="rotate(-20 357.4 342.4)"/>
<ellipse cx="367.7" cy="344.2" rx="3.6" ry="4.2" fill="#fff" stroke-width="1.4" transform="rotate(-20 367.7 344.2)"/>
<ellipse cx="367.7" cy="344.2" rx="1.6" ry="2.0" fill="#fff" stroke-width="1.0" transform="rotate(-20 367.7 344.2)"/>
<ellipse cx="361" cy="362.4" rx="3.6" ry="4.2" fill="#fff" stroke-width="1.4" transform="rotate(-20 361 362.4)"/>
<ellipse cx="361" cy="362.4" rx="1.6" ry="2.0" fill="#fff" stroke-width="1.0" transform="rotate(-20 361 362.4)"/>
<path d="M357,347 C359,352 358,357 357.5,360 M364,348.5 C367,353 366,359 364.5,362" fill="none" stroke-width="1.4"/>
<path d="M350,364.2 C358,372 372,380 388,385 C394,387 399,388.5 403,392" fill="none" stroke-width="4.0"/>
<path d="M351.5,365.2 C359,372.5 372,379.8 388,384.8 C393,386.5 398,388 401.5,390.6" fill="none" stroke-width="0.9" stroke="#fff"/>
<path d="M343,364 C348,361.5 352,362 355,365.5" fill="none" stroke-width="1.2"/>
<ellipse cx="402.5" cy="391.5" rx="2.4" ry="2.8" fill="#fff" stroke-width="1.1"/>
<path d="M372,348 L381,343.5 L383,345 M380,352.5 L392,346.5 L403,351.5 L397,355 L388,351 L381,355 M383,363.5 L395,357 L398,358.5 L386,365 Z M401,371 L412,364.5 L416,366.5 L404,373.5 Z M398,358.5 L408,362.5 M372,348 L372,356" fill="none" stroke-width="1.1"/>
<path d="M366,367.5 L399.8,383 M407,394.5 L411,388 L420,383.5 M415,409.6 L419,397 L431,391.5 L447,400.5 M419,397 L411,388 M424,380.5 L436,375 L441,377.5 M428,386.5 L443,380" fill="none" stroke-width="1.1"/>
<path d="M421,372.5 C424,368 430,368 432,372 M408,376 L419,371" fill="none" stroke-width="1.0"/>
<path d="M375,339 L372,348 M386,343.5 L383,352 M395,346.5 L407,352 L404,356.5 M409,353.5 L421,359 L417,363.5 M390,367 L388,374.5 L398,379 M408,376 L406,384 M345,352 L352,356 L352,362" fill="none" stroke-width="1.1"/>
<path d="M346,331.5 L352,334 L352,352 M340,345 L345,348" fill="none" stroke-width="1.1"/>
<ellipse cx="443.5" cy="383" rx="6.6" ry="8.4" fill="#fff" stroke-width="1.3" transform="rotate(-25 443.5 383)"/>
<path d="M438,378 C441,373.5 448,374 451,378 M447.5,371.5 C452,372 456,377 456,383" fill="none" stroke-width="1.1"/>
<path d="M457.5,365 C456,370 457,375 459,379 L466,401 L482,393 L478,383 C474,375 468,369 461,367.5" fill="#fff" stroke-width="1.4"/>
<path d="M470,391.5 C469,388.5 471,386 474,386 L482,383.5 L485,390 L477,393 Z" fill="#fff" stroke-width="1.3"/>
<ellipse cx="472.2" cy="389.5" rx="2.2" ry="3.2" fill="#fff" stroke-width="1.0" transform="rotate(-20 472.2 389.5)"/>
<path d="M472.6,365.7 C480,370 486,376 490,383.5 L494,394 M464,371 L485,378.5 M468,375 L483,380.5" fill="none" stroke-width="1.1"/>
<path d="M490,383.5 L504.4,377 M494,394 L509,385.4 M494,394 L498,400 L511,394.5 L524,395.2" fill="none" stroke-width="1.2"/>
<path d="M498,400 C505,396 514,396 521,400 C524,405 524.5,412 523,420" fill="none" stroke-width="1.4"/>
<path d="M466,401 L456,436.9 M482,393 L486,418 L476,428 L466,433 M476,404 L470,428 M486,418 L494,421" fill="none" stroke-width="1.1"/>
<path d="M492.0,404.5 L512.0,395.5 L513.0,398.3 L493.0,407.5 Z" fill="#fff" stroke-width="1.0"/>
<path d="M493.2,412.1 L511.6,403.6 L512.6,406.40000000000003 L494.2,415.1 Z" fill="#fff" stroke-width="1.0"/>
<path d="M494.4,419.7 L511.2,411.7 L512.1999999999999,414.5 L495.4,422.7 Z" fill="#fff" stroke-width="1.0"/>
<path d="M495.6,427.3 L510.8,419.8 L511.8,422.6 L496.6,430.3 Z" fill="#fff" stroke-width="1.0"/>
<path d="M519,404 C520,415 519,428 515,440 M523,420 L526,423 L524,430.8" fill="none" stroke-width="1.1"/>
<path d="M476,428 L490,422 L499,427 L485,434.5 Z M485,434.5 L487,441 L500,434 L499,427" fill="#fff" stroke-width="1.2"/>
<path d="M498.19,452.18 L507.90,447.01 A2.4 3.6 -28 0 0 504.52,440.66 L494.81,445.82 A2.4 3.6 -28 0 0 498.19,452.18 Z" fill="#fff" stroke-width="1.2"/>
<ellipse cx="496.5" cy="449" rx="2.4" ry="3.6" fill="#fff" stroke-width="1.2" transform="rotate(-28 496.5 449)"/>
<ellipse cx="496.5" cy="449" rx="1.6" ry="1.1" fill="#fff" stroke-width="0.8" transform="rotate(-28 496.5 449)"/>
<path d="M460.5,444.4 L464,438 L496,455.5 L498.4,462.6 M464,438 L466,433 M496,455.5 L517,437 M470,441 L473,436 M506,447 C510,443 512,438 511,433" fill="none" stroke-width="1.1"/>
<path d="M456,436.9 L461,433.5 L468,437" fill="none" stroke-width="1.0"/>
<path d="M456,436.9 L460.5,444.4 L493.8,459.6 L498.4,462.6 L518,444.4 L524,430.8 L528,408 L524,395.2" fill="none" stroke-width="2.4"/>
<path d="M462,440.5 L495,456 L515,439 C519,430 521,420 521,410" fill="none" stroke-width="1.1"/>
<path d="M472.6,365.7 L504.4,377 L509,385.4 L524,395.2" fill="none" stroke-width="2.2"/>
<path d="M476,369.5 L502,379 L506,386.5 M480,373 L500,380.5 M509,385.4 C514,387 519,391 521,396 M511,390 C515,392 518,395 519,399" fill="none" stroke-width="1.2"/>
<path d="M457.5,365 C462,362.5 468,363.5 472.6,365.7" fill="none" stroke-width="2.2"/>
<path d="M453.7,405 L456,436.9 M447,400.5 L453.7,405" fill="none" stroke-width="2.0"/>
<path d="M466,401 L470,405 L468,428 M482,393 L488,396 L494,394 M476,404 L480,407 L478,428" fill="none" stroke-width="1.0"/>
<path d="M500,434 L511,428 L512,431.5 L501,437.5 Z M503,441 L514,435" fill="none" stroke-width="1.1"/>
</g>
<g id="p_44_p12_4_54">
<polyline points="272,398 291,409" stroke-width="1.0" stroke-dasharray="11 2.5 2 2.5"/>
<path d="M291.4,398 L301,391.5 L317,400.3 L319.4,429.8 L310.3,434.4 L293.6,427.5 Z" fill="#fff" stroke-width="1.5"/>
<path d="M291.4,398 L308,404.5 L317,400.3 M308,404.5 L310.3,434.4" fill="none" stroke-width="1.3"/>
<path d="M294,404 L294.8,412 M295,415 L296,425 M298,413 L298.8,424" fill="none" stroke-width="1.4"/>
<ellipse cx="312.5" cy="403.8" rx="1.2" ry="1.0" fill="none" stroke-width="0.8"/>
<ellipse cx="314.5" cy="429" rx="1.2" ry="1.0" fill="none" stroke-width="0.8"/>
<path d="M320,455.6 L320.9,466.1 L355.7,484.3 C359,487.5 362,488.5 364.8,488 C371,486 375.5,483 376.9,479.8 L376.9,463.1 L370.8,460 L357.2,467.7 L324,452.5 Z" fill="#fff" stroke-width="1.5"/>
<path d="M320,455.6 L356.5,472.5 L376.9,463.1 M356.5,472.5 L357.5,485.5 M324,452.5 L324,457.5 M357.2,467.7 L357,472" fill="none" stroke-width="1.2"/>
<path d="M321.6,412.4 L334,405.5 L335,403 L338.5,403.8 L338.5,406 L343,403.2 L352,408 L352,411 L358.5,408.5 L363.3,414.7 L360,418 L360,424 L367,432 L367,445.5 L367.8,454 L358.7,458.6 L354.2,461.6 L347,458.5 L344,456 L338,458 L325.4,452 L324,445 Z" fill="#fff" stroke-width="1.5"/>
<path d="M321.6,412.4 L349.6,423.8 L363.3,414.7 M349.6,423.8 L354.2,461.6 M325.5,416.5 L346.5,425.5 L350.5,455 M325.5,416.5 L327.5,446 L338,451" fill="none" stroke-width="1.2"/>
<path d="M334,405.5 L337,409 M343,403.2 L343.5,407 L352,411" fill="none" stroke-width="1.0"/>
<ellipse cx="364.6" cy="429.5" rx="4.8" ry="7.2" fill="#fff" stroke-width="1.3" transform="rotate(10 364.6 429.5)"/>
<path d="M360,422.5 C357,424 356.5,433 359.5,436.5" fill="none" stroke-width="1.1"/>
<ellipse cx="353.5" cy="429" rx="2.0" ry="2.6" fill="#fff" stroke-width="1.0"/>
<ellipse cx="355" cy="441" rx="2.0" ry="2.6" fill="#fff" stroke-width="1.0"/>
<path d="M332.5,432.5 c1.5,-2.4 5,-2.4 6.5,0 M332.5,437.5 c1.5,-2.4 5,-2.4 6.5,0 M332.5,442.5 c1.5,-2.4 5,-2.4 6.5,0 M333,434.5 c2,1.6 4,1.6 6,0 M333,439.5 c2,1.6 4,1.6 6,0" fill="none" stroke-width="1.3"/>
<path d="M333,450 l0,6 M336,451 l0,7 M340,453.5 l5,2 l0,6 l-5,-2 Z M342,455 l0,5" fill="none" stroke-width="1.1"/>
<path d="M357.5,445.5 L367,441 M357.8,450 L360,449 L360,455" fill="none" stroke-width="1.0"/>
<polyline points="436,441.5 448,434.5" stroke-width="1.0" stroke-dasharray="11 2.5 2 2.5"/>
<path d="M417,438 L422.3,436.6 L435.2,446.5 C436.5,458 435,476 431.4,488.9 L425.3,494.9 L397.3,510 L382.2,499.4 L385.2,479 L411.7,467.7 Z" fill="#fff" stroke-width="1.5"/>
<path d="M385.2,479 L399.5,487.5 L426,473.5 C428.5,464 429,452 428,444 L417,438 M428,444 L435.2,446.5 M399.5,487.5 L397.3,510 M396,485.5 L393.6,507.5" fill="none" stroke-width="1.2"/>
<path d="M399.6,433.5 L404,432.6 C412,434 417,442 417,452 C417,461 413,468 406,469.5 L401,468.6 Z" fill="#25152a" stroke-width="1.0"/>
<polyline points="405.0,436.0 411.1,437.6" stroke-width="0.7" stroke="#fff"/>
<polyline points="406.0,439.7 412.2,441.3" stroke-width="0.7" stroke="#fff"/>
<polyline points="407.0,443.4 413.3,445.0" stroke-width="0.7" stroke="#fff"/>
<polyline points="408.0,447.1 414.4,448.70000000000005" stroke-width="0.7" stroke="#fff"/>
<polyline points="409.0,450.8 415.5,452.40000000000003" stroke-width="0.7" stroke="#fff"/>
<polyline points="408.0,454.5 414.4,456.1" stroke-width="0.7" stroke="#fff"/>
<polyline points="407.0,458.2 413.3,459.8" stroke-width="0.7" stroke="#fff"/>
<polyline points="406.0,461.9 412.2,463.5" stroke-width="0.7" stroke="#fff"/>
<polyline points="405.0,465.6 411.1,467.20000000000005" stroke-width="0.7" stroke="#fff"/>
<ellipse cx="399.6" cy="451" rx="12.2" ry="17.6" fill="#fff" stroke-width="1.5" transform="rotate(-8 399.6 451)"/>
<ellipse cx="397.5" cy="452.5" rx="3.2" ry="2.4" fill="#fff" stroke-width="1.1" transform="rotate(-20 397.5 452.5)"/>
<ellipse cx="396.5" cy="452.8" rx="1.4" ry="1.8" fill="#fff" stroke-width="0.9" transform="rotate(-20 396.5 452.8)"/>
</g>
<g id="p_45_overlay_dd">
<polyline points="191,555 268,510.5" stroke-width="1.0" stroke-dasharray="11 2.5 2 2.5"/>
<polyline points="183,580.5 300,513" stroke-width="1.0" stroke-dasharray="11 2.5 2 2.5"/>
<polyline points="248,557 282,537.5" stroke-width="1.0" stroke-dasharray="11 2.5 2 2.5"/>
</g>
<g id="p_50_housing1">
<polyline points="409.5,654 529,585" stroke-width="1.0" stroke-dasharray="11 2.5 2 2.5"/>
<polyline points="605,541 705,483" stroke-width="1.0" stroke-dasharray="11 2.5 2 2.5"/>
<polyline points="617,605.3416000000001 782,699.2266" stroke-width="1.0" stroke-dasharray="11 2.5 2 2.5"/>
<polyline points="419,490 470,518.5" stroke-width="1.0" stroke-dasharray="11 2.5 2 2.5"/>
<path d="M575.50,631.20 L467.50,568.85 A24 43 30 0 1 510.50,494.37 L618.50,556.72 A24 43 30 0 1 575.50,631.20 Z" fill="#fff" stroke-width="1.6"/>
<path d="M474.5,503.5 L478,498.5 L494.9,492.6 L501,495 L501,499.5 L484,508 L477,511.5 Z" fill="#fff" stroke-width="1.5"/>
<path d="M478,498.5 L484,501.5 L501,495 M484,501.5 L484,508 M480,502.5 L480,509.5" fill="none" stroke-width="1.1"/>
<path d="M468,530 C467,540 468,552 470.5,562 L474,573.5 L492,583.5 L495,577 L478,567.5 C475,556 474.5,544 476,534 Z" fill="#fff" stroke-width="1.3"/>
<path d="M470,540 L476,543 M469.5,551 L477,555 M472,565 L479,562 M481,543 L489,547.5 L490,560 L483,557 Z M486,549 L486,557" fill="none" stroke-width="1.1"/>
<path d="M476,534 C484,535 491,539 495,546 C497,555 497,566 495,577" fill="none" stroke-width="1.3"/>
<ellipse cx="466.5" cy="523" rx="1.8" ry="2.6" fill="#fff" stroke-width="1.0"/>
<ellipse cx="465.5" cy="547" rx="1.8" ry="2.6" fill="#fff" stroke-width="1.0"/>
<path d="M469.7,567 L492,580" fill="none" stroke-width="3.0"/>
<path d="M472,563 L493,575.5 M473,546 L479,549.5 L479,560 M476,538.5 L476,566" fill="none" stroke-width="1.2"/>
<path d="M482,545 l5,2.8 l0,9 l-5,-2.8 Z" fill="#25152a" stroke-width="0.8"/>
<path d="M514.8,497.8 A24 43 30 0 0 471.8,572.2" fill="none" stroke-width="1.0"/>
<path d="M492,515 C489,511 494,503 500,501.5 C504,500 508,500.5 512,502.5 L592,538.5 C596,540.5 594,544 590,546.5 L562,560 C557,562.5 552,562 547,559.5 L497,520 C494.5,518.5 493,517 492,515 Z" fill="none" stroke-width="1.3"/>
<path d="M489,520 C486,514 491,503.5 499,500 C504,498 509,498.5 514,500.5" fill="none" stroke-width="1.0"/>
<path d="M489,524 L548,566.5 C553,569.5 559,569.5 565,566.5 L604,546.5" fill="none" stroke-width="1.2"/>
<path d="M487,528 L547,570.5 C553,574 560,574 566,570.5 L607,549.5" fill="none" stroke-width="1.2"/>
<path d="M497.5,556 C497,553 500,551.5 503,552 L554,572.5 C549,580 548,592 551,603 L553,611 L508,587.5 C501,579 498,567 497.5,556 Z" fill="none" stroke-width="1.3"/>
<path d="M501,557 C502,570 506,580 512,587 M553,611 L556,621" fill="none" stroke-width="1.0"/>
<path d="M478,578 L538,612.5 M474,573.5 L478,578" fill="none" stroke-width="1.1"/>
<path d="M590.21,651.45 L571.67,641.59 A31 56 28 0 1 624.25,542.70 L642.79,552.55 A31 56 28 0 1 590.21,651.45 Z" fill="#fff" stroke-width="1.6"/>
<path d="M628.3,547.6 A29 53 28 0 0 575.3,639.4" fill="none" stroke-width="1.0"/>
<ellipse cx="616.5" cy="602" rx="31" ry="56" fill="#fff" stroke-width="2.0" transform="rotate(28 616.5 602)"/>
<ellipse cx="617.0" cy="602.3" rx="27.5" ry="51" fill="#fff" stroke-width="1.8" transform="rotate(28 617.0 602.3)"/>
<ellipse cx="615.0" cy="601.2" rx="25" ry="47.5" fill="none" stroke-width="1.0" transform="rotate(28 615.0 601.2)"/>
<ellipse cx="611.5" cy="599.2" rx="20.5" ry="41" fill="none" stroke-width="0.9" transform="rotate(28 611.5 599.2)" stroke-dasharray="70 40 50 300"/>
<ellipse cx="607.5" cy="597" rx="17" ry="35" fill="none" stroke-width="0.9" transform="rotate(28 607.5 597)" stroke-dasharray="0 95 60 300"/>
<path d="M582,600 L579.5,610 L582.5,616 L585,613.5 M588,585 L586.5,590 L590,592.5 M650.5,572 L655,577 L654,588 L650.5,592 M652,596 L654,600 L652.5,606 M636,556 l3,1.6 M640.5,558.5 l2.6,1.4 M597,652 L600,656.5 L604,655" fill="none" stroke-width="1.2"/>
<ellipse cx="637" cy="558.5" rx="1.2" ry="1.6" fill="none" stroke-width="0.8"/>
<ellipse cx="641" cy="561" rx="1.2" ry="1.6" fill="none" stroke-width="0.8"/>
<path d="M613,563 L609,567.6 L592.6,582.3 L581.2,602 L581.2,611.7 L586,615 L586,628 L579.5,636.3 L587.7,647.7" fill="none" stroke-width="1.7"/>
<path d="M616,566 L612,570.5 L596,585 L585,604 L585,610 L589.5,613 L589.5,629.5 L584,637" fill="none" stroke-width="1.0"/>
<ellipse cx="588" cy="598.5" rx="1.3" ry="1.8" fill="none" stroke-width="0.8"/>
<ellipse cx="591" cy="590" rx="1.3" ry="1.8" fill="none" stroke-width="0.8"/>
<ellipse cx="586.5" cy="645.5" rx="1.2" ry="1.8" fill="none" stroke-width="0.8"/>
<path d="M594,628 C600,640 612,645 625,640 M598,618 C603,630 612,636 622,634" fill="none" stroke-width="1.0"/>
<polyline points="593,589 624,603" stroke-width="2.6"/>
<polyline points="593.8,589.4 623.4,602.7" stroke-width="1.0" stroke="#fff"/>
<polyline points="590.5,595 619.5,612.5" stroke-width="2.6"/>
<polyline points="591.3,595.4 618.9,612.2" stroke-width="1.0" stroke="#fff"/>
<polyline points="587,602 612,616" stroke-width="2.6"/>
<polyline points="587.8,602.4 611.4,615.7" stroke-width="1.0" stroke="#fff"/>
<path d="M611,634.5 L627,621.5 L629.5,623.5 L613.5,637 Z" fill="#fff" stroke-width="1.1"/>
<path d="M596,640 L608,636 M590,628 C596,634 604,636 612,632" fill="none" stroke-width="1.0"/>
<path d="M604,566 L596.5,584 M600,618 C603,630 603,640 600,649" fill="none" stroke-width="1.0"/>
<path d="M705.8,610.7 L758.5,641.4 L768,650 L771.9,665.8 L769.6,686.2 L760.1,703.5 L741.2,713 L728.7,713 L719.2,706.7 L667.3,680 L663.4,670.5 L664.2,647 L665.7,634.3 C666.5,628 668,622.5 670.4,618.6 C673,613.5 677,611 681.5,610.7 C687,610.5 692,612 697.2,615.4 Z" fill="#fff" stroke-width="1.7"/>
<polyline points="697.2,615.4 750.7,643.8" stroke-width="1.4"/>
<polyline points="688,613 742,642" stroke-width="1.0"/>
<polyline points="676,628 734.9,653.2" stroke-width="1.4"/>
<polyline points="670.4,618.6 676,628" stroke-width="1.2"/>
<polyline points="672,633 728,661.5" stroke-width="1.0"/>
<polyline points="665.7,647.7 723.9,676.8" stroke-width="1.4"/>
<polyline points="663.4,664.2 718.4,691.7" stroke-width="1.4"/>
<polyline points="665,672 719.2,699" stroke-width="1.0"/>
<path d="M697.2,615.4 C694,617 692,619.5 691,622.5 M681.5,610.7 C679,616 677,622 676,628" fill="none" stroke-width="1.1"/>
<path d="M663.4,664.2 L666,662.5 M665.7,647.7 L668,646" fill="none" stroke-width="1.0"/>
<path d="M758.5,642.2 L768,650 L771.9,665.8 L769.6,686.2 L760.1,703.5 L741.2,713 L728.7,713 L719.2,705.1 L719.2,689.4 L723.9,665.8 L734.9,653.2 L750.7,643.8 Z" fill="#fff" stroke-width="2.0"/>
<path d="M755,648 C762,652 766,660 765.5,670 C765,682 759,694 750,701 C742,707 732,708 726,703 C722,699 722,690 724,681 C727,668 735,656 746,650 C749,648.5 752,647.5 755,648 Z" fill="#fff" stroke-width="1.4"/>
<path d="M725.5,673.7 C732,662 747,652.5 763.3,651.6 L766.5,655.5 C752,657 738,666 730.5,678.5 Z" fill="#fff" stroke-width="1.9"/>
<path d="M728,675.5 C735,664.5 749,656 764.5,654" fill="none" stroke-width="0.9"/>
<path d="M723.9,697.3 C728,703 738,706.5 748,704 L745.5,709.5 C736,711.5 727,708.5 722,702 Z" fill="#fff" stroke-width="1.6"/>
<path d="M726,692 C731,699 741,701.5 751,698" fill="none" stroke-width="1.0"/>
<polyline points="742.8,669 763.3,680" stroke-width="2.4"/>
<polyline points="738.5,673 760,684.5" stroke-width="1.2"/>
<path d="M768.5,662.5 l4,1.6 M768.5,666.5 l3.6,1.4 M716.5,690 l4.6,2 M716.5,694 l4.4,1.8 M741,713 l0.4,4" fill="none" stroke-width="1.3"/>
<polyline points="738,673.1906 782.5,699.5111" stroke-width="1.0" stroke-dasharray="11 2.5 2 2.5"/>
</g>
<g id="p_51_brushes">
<polyline points="588,491.5 599,485.5" stroke-width="1.0" stroke-dasharray="11 2.5 2 2.5"/>
<polyline points="561,503 545,512" stroke-width="1.0" stroke-dasharray="11 2.5 2 2.5"/>
<path d="M561.8,501 L575.8,494 L585.8,501 L585.8,506 L572.3,513 L561.8,506 Z" fill="#fff" stroke-width="1.4"/>
<path d="M561.8,501 L572.3,508 L585.8,501 M572.3,508 L572.3,513" fill="none" stroke-width="1.2"/>
<path d="M577.3,493 C576,489.5 579,488 581.5,489.5 L587,493" fill="none" stroke-width="1.4"/>
<line x1="585" y1="492.5" x2="601.5" y2="502" stroke-width="4.6" stroke-linecap="round"/>
<line x1="586" y1="493.1" x2="600.9" y2="501.7" stroke-width="1.6" stroke="#fff" stroke-linecap="round"/>
<path d="M597,478 L598.5,470 L601,466 L603,464.5 L604.5,466 L603,470.5 L603.5,477.5 L610,473.5 L611,465 L614,461 L621,460.4 L626,464 L627,471 L628.8,473 L628.8,480 L626.5,483 L627,490 L619,494 L614,493 L600.5,485.5 L597,482.5 Z" fill="#fff" stroke-width="1.7"/>
<path d="M603.5,477.5 L617,485.5 L627,480 M617,485.5 L617,493.5 M610,473.5 L621,479.5 L626,476.5 M606,480 L606,484.5 M612,464 L612,471 M615.5,462.5 L615.5,470 M618.5,462 L618.5,469.5 M611,471.5 L622,469" fill="none" stroke-width="1.3"/>
<path d="M611,475 l6,-2.4 l3,1.6 l-6,2.6 Z" fill="#25152a" stroke-width="0.8"/>
<path d="M620,488 l4,-2 M621.5,481.5 l0,4" fill="none" stroke-width="1.0"/>
<path d="M638.74,455.42 L632.40,462.80 L641.26,458.78 Z" fill="#6f6673" stroke-width="1.0"/>
<polyline points="636.91,456.98 638.61,460.58" stroke-width="0.8"/>
<polyline points="635.19,458.69 636.49,461.75" stroke-width="0.8"/>
<polyline points="633.48,460.41 634.36,462.91" stroke-width="0.8"/>
<ellipse cx="641.04" cy="456.32" rx="2.6" ry="3.9" fill="#fff" stroke-width="1.3" transform="rotate(143.1301023541561 641.04 456.32)"/>
<ellipse cx="642" cy="455.6" rx="2.6" ry="3.9" fill="#fff" stroke-width="1.4" transform="rotate(143.1301023541561 642 455.6)"/>
<path d="M640.50,454.30 l3,2.6 M643.20,453.80 l-2.4,3.6" fill="none" stroke-width="0.8"/>
<path d="M643.57,464.12 L637.20,470.50 L645.77,467.70 Z" fill="#6f6673" stroke-width="1.0"/>
<polyline points="641.73,465.42 643.09,469.17" stroke-width="0.8"/>
<polyline points="639.99,466.9 640.99,470.06" stroke-width="0.8"/>
<polyline points="638.25,468.37 638.89,470.95" stroke-width="0.8"/>
<ellipse cx="645.7776445433764" cy="465.2283226243833" rx="2.6" ry="3.9" fill="#fff" stroke-width="1.3" transform="rotate(148.42580924971455 645.7776445433764 465.2283226243833)"/>
<ellipse cx="646.8" cy="464.6" rx="2.6" ry="3.9" fill="#fff" stroke-width="1.4" transform="rotate(148.42580924971455 646.8 464.6)"/>
<path d="M645.30,463.30 l3,2.6 M648.00,462.80 l-2.4,3.6" fill="none" stroke-width="0.8"/>
<path d="M633.3000000000001,481.5 L633.3000000000001,484.7 A6.3 4.2 0 0 0 645.9,484.7 L645.9,481.5 Z" fill="#25152a" stroke-width="1.0"/>
<ellipse cx="639.6" cy="481.5" rx="6.3" ry="4.2" fill="#25152a" stroke-width="1.0"/>
<ellipse cx="639.6" cy="481.5" rx="4.4" ry="2.7" fill="none" stroke-width="0.7" stroke="#fff"/>
<ellipse cx="639.6" cy="481.5" rx="2.0" ry="1.1" fill="#fff" stroke-width="0.6"/>
<path d="M645.5,484.5 C649,485 652,483.5 654.5,484.5 C656,485.5 656.4,487 656,489" fill="none" stroke-width="1.6"/>
<polyline points="434.7,580.7 440.7,576.6" stroke-width="1.0" stroke-dasharray="11 2.5 2 2.5"/>
<polyline points="462.2,564.6 476,557" stroke-width="1.0" stroke-dasharray="11 2.5 2 2.5"/>
<path d="M440,570.6 L454,563.6 L464,570.6 L464,575.1 L450.5,582.1 L440,575.1 Z" fill="#fff" stroke-width="1.4"/>
<path d="M440,570.6 L450.5,577.6 L464,570.6 M450.5,577.6 L450.5,582.1" fill="none" stroke-width="1.2"/>
<path d="M446.6,580.5 C446.5,583.5 449,585.5 452.6,587.3" fill="none" stroke-width="1.5"/>
<line x1="453.5" y1="587.8" x2="468.5" y2="596.5" stroke-width="4.6" stroke-linecap="round"/>
<line x1="454.5" y1="588.4" x2="467.9" y2="596.2" stroke-width="1.6" stroke="#fff" stroke-linecap="round"/>
<path d="M381.7,573.2 L381.7,576.4000000000001 A6.3 4.2 0 0 0 394.3,576.4000000000001 L394.3,573.2 Z" fill="#25152a" stroke-width="1.0"/>
<ellipse cx="388" cy="573.2" rx="6.3" ry="4.2" fill="#25152a" stroke-width="1.0"/>
<ellipse cx="388" cy="573.2" rx="4.4" ry="2.7" fill="none" stroke-width="0.7" stroke="#fff"/>
<ellipse cx="388" cy="573.2" rx="2.0" ry="1.1" fill="#fff" stroke-width="0.6"/>
<path d="M393.5,576 L393.5,582 L397.5,584 L397.5,581.5" fill="none" stroke-width="1.6"/>
<path d="M389.37,601.78 L397.00,595.70 L387.52,598.01 Z" fill="#6f6673" stroke-width="1.0"/>
<polyline points="391.47,600.59 390.46,596.73" stroke-width="0.8"/>
<polyline points="393.47,599.22 392.77,595.98" stroke-width="0.8"/>
<polyline points="395.48,597.85 395.09,595.23" stroke-width="0.8"/>
<ellipse cx="387.2772728644274" cy="600.4713383165309" rx="2.6" ry="3.9" fill="#fff" stroke-width="1.3" transform="rotate(-26.13906810043462 387.2772728644274 600.4713383165309)"/>
<ellipse cx="386.2" cy="601" rx="2.6" ry="3.9" fill="#fff" stroke-width="1.4" transform="rotate(-26.13906810043462 386.2 601)"/>
<path d="M384.70,599.70 l3,2.6 M387.40,599.20 l-2.4,3.6" fill="none" stroke-width="0.8"/>
<path d="M394.82,610.03 L401.70,603.50 L392.68,606.42 Z" fill="#6f6673" stroke-width="1.0"/>
<polyline points="396.77,608.7 395.46,604.93" stroke-width="0.8"/>
<polyline points="398.61,607.21 397.65,604.03" stroke-width="0.8"/>
<polyline points="400.46,605.71 399.85,603.13" stroke-width="0.8"/>
<ellipse cx="392.63168553604606" cy="608.887117503339" rx="2.6" ry="3.9" fill="#fff" stroke-width="1.3" transform="rotate(-30.71282771515894 392.63168553604606 608.887117503339)"/>
<ellipse cx="391.6" cy="609.5" rx="2.6" ry="3.9" fill="#fff" stroke-width="1.4" transform="rotate(-30.71282771515894 391.6 609.5)"/>
<path d="M390.10,608.20 l3,2.6 M392.80,607.70 l-2.4,3.6" fill="none" stroke-width="0.8"/>
<path d="M409.5,567 L413.1,566.4 L426.3,574.2 L429.9,579 L432.3,582.5 L435.3,585 L435.3,591 L432.3,593.3 L433.5,603 L427.5,607.7 L419.1,605.3 L417.9,602.3 L421.5,600.5 L421.5,594.5 L411.9,591 L410.1,587.3 L409.5,582.5 L405.9,585 L404.7,582.5 L406.5,575.4 L408.3,570.6 Z" fill="#fff" stroke-width="1.7"/>
<path d="M409.5,571.5 L423.5,579.5 L429.9,579 M423.5,579.5 L424,588 L432.3,593.3 M412.5,574 L412.5,580.5 L418.5,584 M413,583 L413,588 L421.5,592 M424,588 L421.5,590 M426.5,597 L427.5,607.7 M421.5,600.5 L427,599.5 L433,597 M409.5,582.5 L409.5,576" fill="none" stroke-width="1.3"/>
<path d="M411.3,593.3 C410,595.5 411.5,597.5 414.5,597.5 L418,597 L418,594.8" fill="none" stroke-width="1.3"/>
<path d="M415,576.5 l5,2.8 l0,3 l-5,-2.8 Z" fill="#25152a" stroke-width="0.6"/>
</g>
<g id="p_52_plates_ventR">
<path d="M680,452 L736.5,479.5 C741,486 743.5,494 743,502 C742.5,510 740.5,516 737,521.5 L691.5,489.5 C685,480 680.5,467 680,452 Z" fill="#fff" stroke-width="1.5"/>
<polyline points="705,483 687,493.5" stroke-width="1.0" stroke-dasharray="11 2.5 2 2.5"/>
<path d="M363,635 L419.5,664 C416,671 414.5,679 415,687 C415.5,694 417,699.5 420,704 L373,672 C367,662 363.5,649 363,635 Z" fill="#fff" stroke-width="1.5"/>
<polyline points="524.5,397.3 536.7,390.6" stroke-width="1.0"/>
<path d="M522.2,354.5 C522,352 524,350.6 526.7,351.1 L565.6,368.9 L592.3,383.4 C597,387 600,391 600.1,395.6 L600.1,412.3 C599.5,416 597.5,418.5 594.5,420.1 L577.9,423.4 C572,421.5 568,418.5 564.5,414.5 L565.6,411.2 L537.8,390 L532.2,367.8 L524.5,363.9 Z" fill="#fff" stroke-width="1.7"/>
<path d="M526,353.8 L566,371.8 L590,385 C594.5,388 597,392 597,396 L597,411.5 C596.5,414.5 595,416.5 592.5,417.5 L578,420.5" fill="none" stroke-width="1.1"/>
<ellipse cx="527.2" cy="360.6" rx="3.4" ry="3.8" fill="#fff" stroke-width="1.3"/>
<ellipse cx="527.2" cy="360.6" rx="1.5" ry="1.7" fill="#fff" stroke-width="0.9"/>
<path d="M530.5,362.5 L535,360 M532.2,367.8 L536,362" fill="none" stroke-width="1.0"/>
<path d="M536.1,361.1 L560,372.3 C565,376 568.5,381 570,386.7 C571.5,391 571.5,396 570.6,400 L543.4,384.5 L538.4,369 Z" fill="#25152a" stroke-width="1.0"/>
<path d="M539.5,364.0 C542.5,370.0 544.5,377.0 545.0,383.0" fill="none" stroke-width="0.5" stroke="#b9b3be"/>
<path d="M542.2,365.3 C545.2,371.3 547.2,378.3 548.1,384.9" fill="none" stroke-width="0.5" stroke="#b9b3be"/>
<path d="M544.9,366.6 C547.9,372.6 549.9,379.6 551.2,386.8" fill="none" stroke-width="0.5" stroke="#b9b3be"/>
<path d="M547.6,367.9 C550.6,373.9 552.6,380.9 554.3,388.7" fill="none" stroke-width="0.5" stroke="#b9b3be"/>
<path d="M550.3,369.2 C553.3,375.2 555.3,382.2 557.4,390.6" fill="none" stroke-width="0.5" stroke="#b9b3be"/>
<path d="M553.0,370.5 C556.0,376.5 558.0,383.5 560.5,392.5" fill="none" stroke-width="0.5" stroke="#b9b3be"/>
<path d="M555.7,371.8 C558.7,377.8 560.7,384.8 563.6,394.4" fill="none" stroke-width="0.5" stroke="#b9b3be"/>
<path d="M558.4,373.1 C561.4,379.1 563.4,386.1 566.7,396.3" fill="none" stroke-width="0.5" stroke="#b9b3be"/>
<path d="M561.1,374.4 C564.1,380.4 566.1,387.4 569.8,398.2" fill="none" stroke-width="0.5" stroke="#b9b3be"/>
<path d="M560,372.3 L566,371.5 L592,386 L585,389.5 L571,388 M570.6,400 L572,387 M565.6,411.2 L570.6,400" fill="none" stroke-width="1.1"/>
<path d="M564.5,414.5 L571,410.5 L583.5,417.5 L577.9,423.4 M566,410 l3,-2.4 l2.4,1.6" fill="none" stroke-width="1.2"/>
<path d="M566,409 l4,-3 l2,2 l-4,3 Z" fill="#25152a" stroke-width="0.6"/>
<ellipse cx="595" cy="397.5" rx="1.6" ry="2.6" fill="#fff" stroke-width="1.0"/>
<ellipse cx="595" cy="414" rx="1.8" ry="2.6" fill="#fff" stroke-width="1.0"/>
</g>
</svg>
</body>
</html>
